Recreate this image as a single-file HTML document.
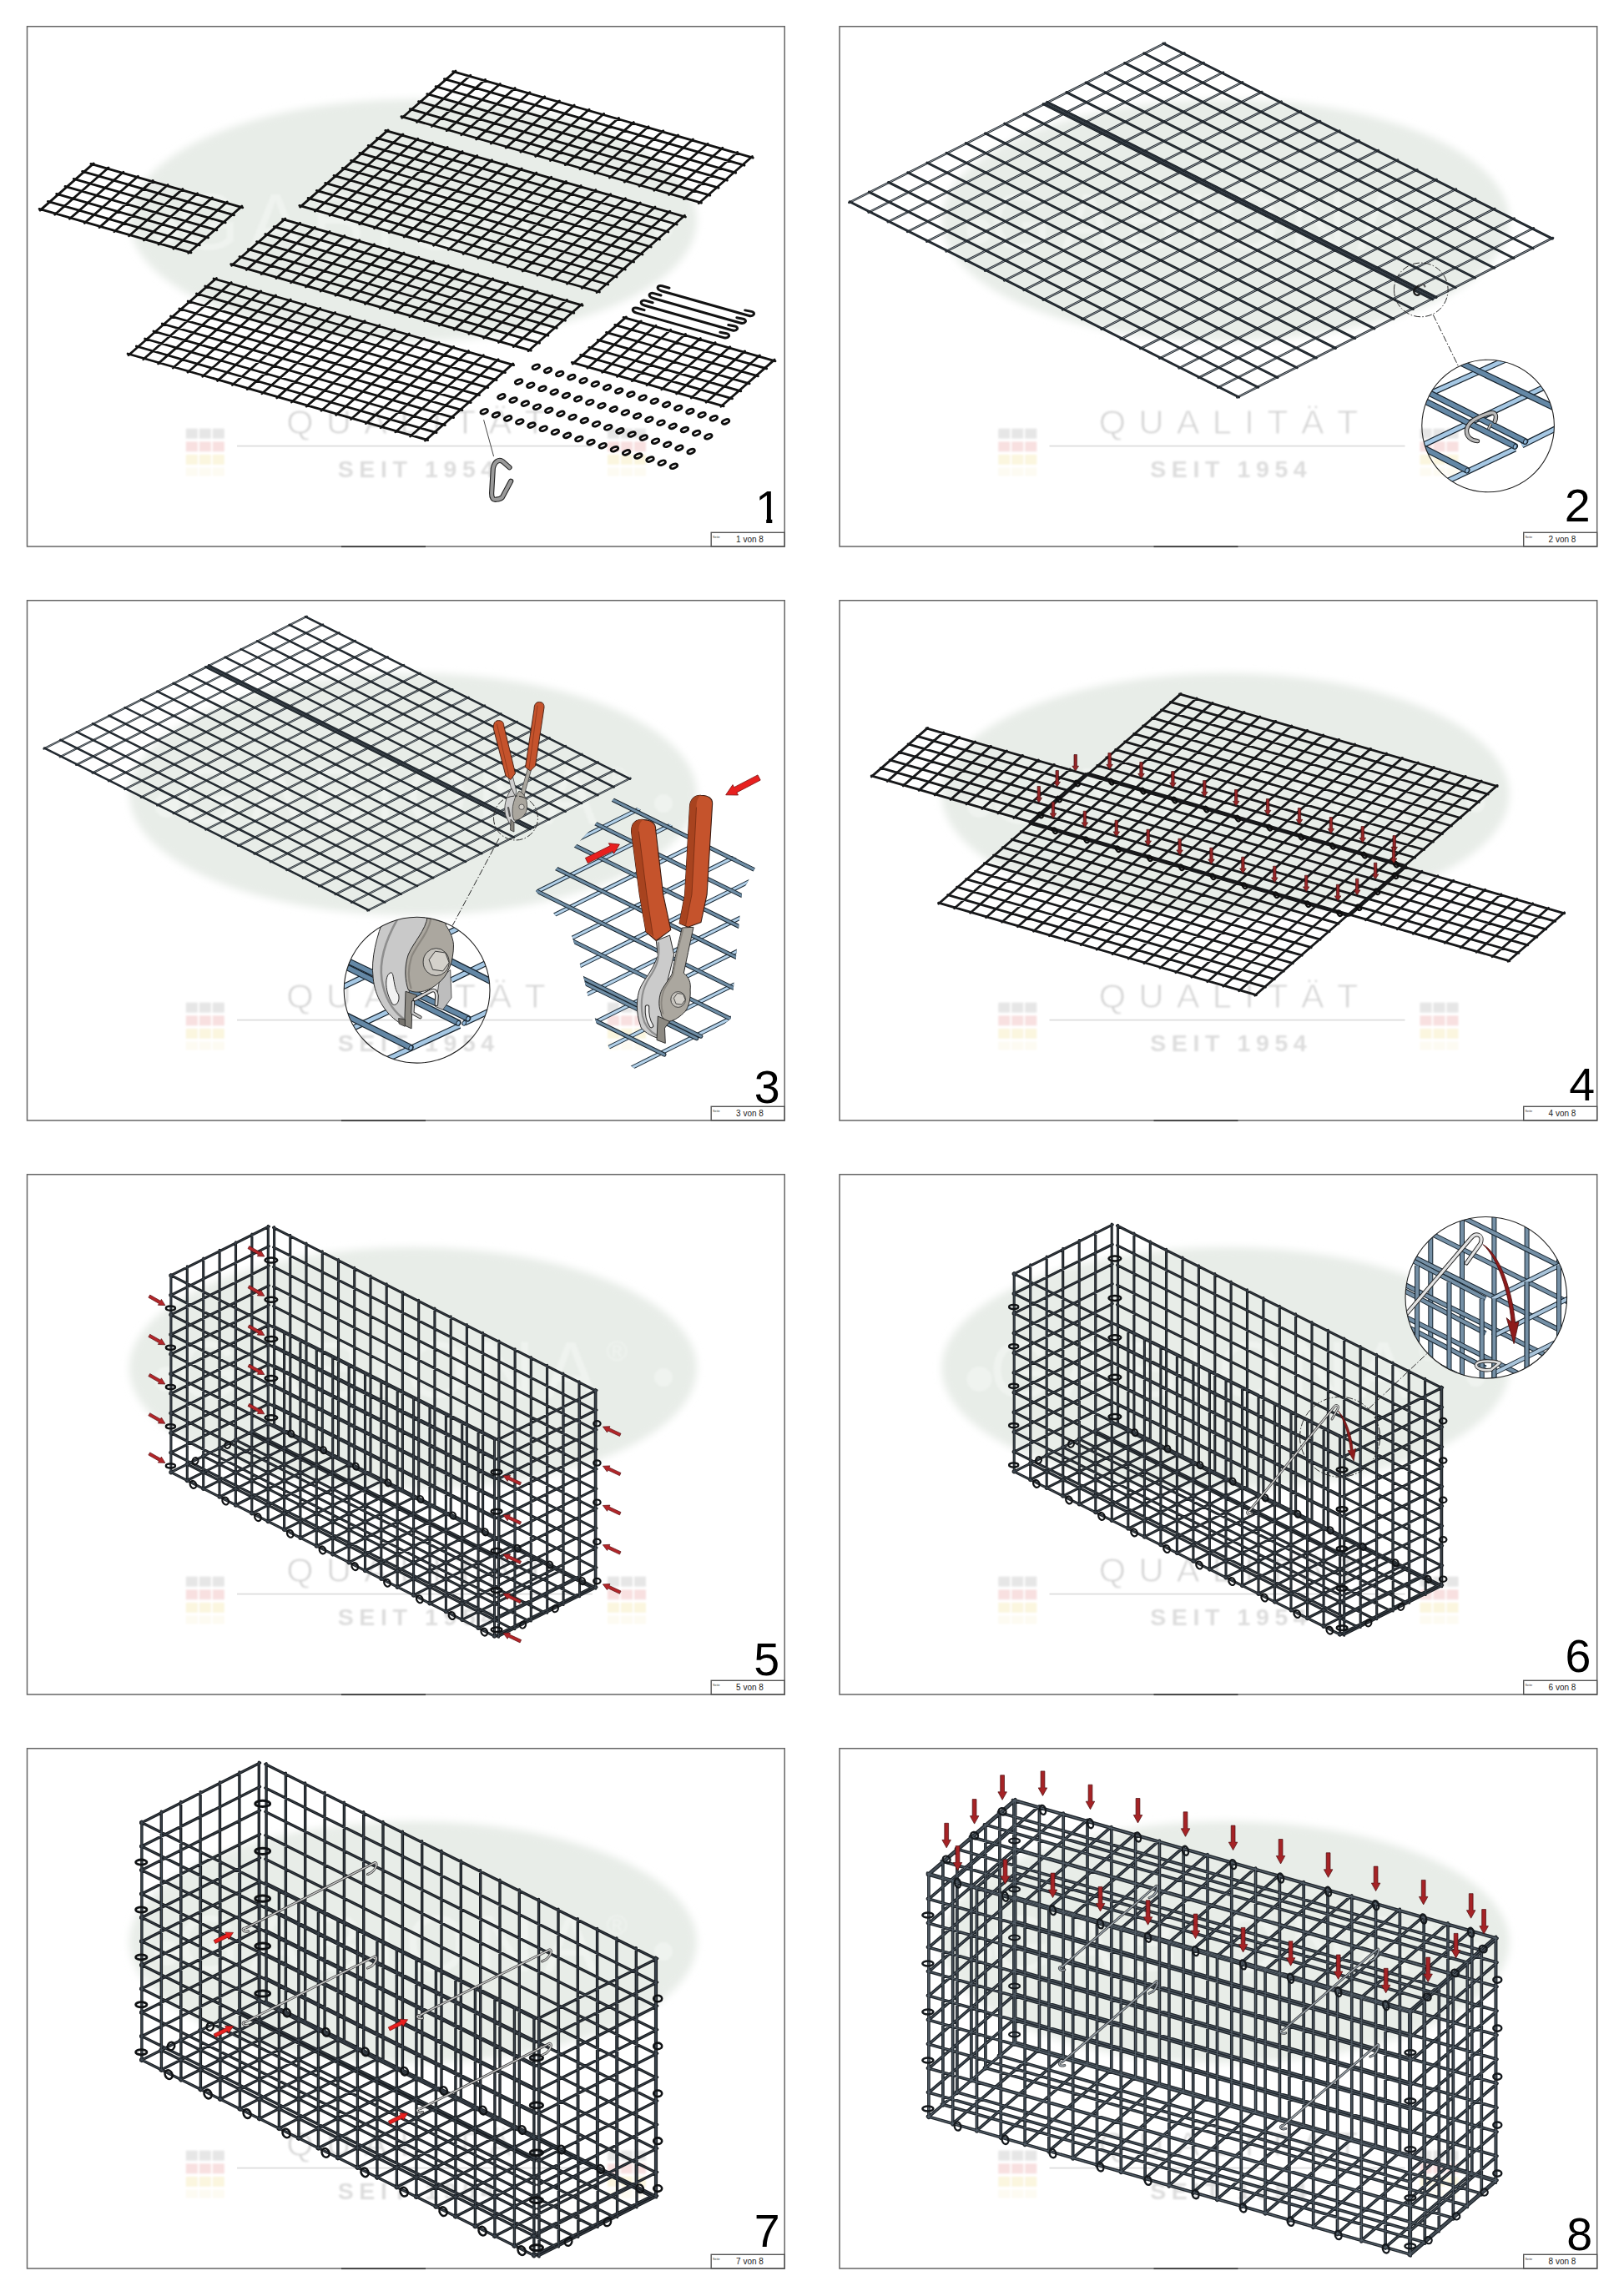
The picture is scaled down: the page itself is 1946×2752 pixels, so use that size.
<!DOCTYPE html>
<html lang="de"><head><meta charset="utf-8"><title>Gabione Montageanleitung</title>
<style>
html,body{margin:0;padding:0;background:#fff}
svg{display:block;font-family:"Liberation Sans",sans-serif}
</style></head><body>
<svg width="1946" height="2752" viewBox="0 0 1946 2752">
<rect width="1946" height="2752" fill="#fff"/>
<defs>
<filter id="bl" x="-10%" y="-10%" width="120%" height="120%"><feGaussianBlur stdDeviation="5"/></filter>
<filter id="bl2" x="-10%" y="-10%" width="120%" height="120%"><feGaussianBlur stdDeviation="1.2"/></filter>
<g id="flag">
<g fill="#e6e6e6"><rect x="0" y="0" width="14" height="12"/><rect x="16" y="0" width="14" height="12"/><rect x="32" y="0" width="14" height="12"/></g>
<g fill="#f8e0e0"><rect x="0" y="15.6" width="14" height="12"/><rect x="16" y="15.6" width="14" height="12"/><rect x="32" y="15.6" width="14" height="12"/></g>
<g fill="#fbf6df"><rect x="0" y="31.2" width="14" height="12"/><rect x="16" y="31.2" width="14" height="12"/><rect x="32" y="31.2" width="14" height="12"/></g>
<g fill="#fdfbf2"><rect x="0" y="46.8" width="14" height="10"/><rect x="16" y="46.8" width="14" height="10"/><rect x="32" y="46.8" width="14" height="10"/></g>
</g>
<g id="wm">
<ellipse cx="495" cy="264" rx="340" ry="145" fill="#e8ede8" filter="url(#bl)"/>
<g filter="url(#bl2)"><circle cx="200" cy="277" r="15" fill="#eff3ef"/><circle cx="795" cy="275" r="11" fill="#eff3ef"/></g>
<use href="#flag" x="222.8" y="513.7" filter="url(#bl2)"/>
<use href="#flag" x="728" y="513.7" filter="url(#bl2)"/>
<rect x="284" y="533.7" width="426" height="1.8" fill="#dedede"/>
</g>
<g id="frame">
<rect x="32.5" y="31.7" width="907.7" height="623.3" fill="none" stroke="#666" stroke-width="1.5"/>
<rect x="852.2" y="638.3" width="88" height="16.7" fill="none" stroke="#555" stroke-width="1.4"/>
<rect x="409" y="654.2" width="101" height="1.9" fill="#444"/>
</g>
</defs>
<g transform="translate(0,0)">
<use href="#wm"/>
<g filter="url(#bl2)"><text x="482" y="299" font-size="96" text-anchor="middle" fill="#eff3ef" letter-spacing="11">GABIONA<tspan font-size="34" dy="-44" letter-spacing="0">®</tspan></text><text x="506.3" y="520.3" font-size="41.5" text-anchor="middle" fill="#d4d4d4" stroke="#fff" stroke-width="0.9" letter-spacing="15.4">QUALITÄT</text><text x="501.8" y="571.9" font-size="28.5" font-weight="bold" text-anchor="middle" fill="#dddddd" letter-spacing="6.6">SEIT 1954</text></g>
<use href="#frame"/><text x="854" y="645.4" font-size="3.8" fill="#333">Seite</text>
<clipPath id="c1"><path d="M890 570H940V621.2H925.3V632H918.2V621.2H890Z"/></clipPath>
<text x="920.5" y="626.6" font-size="55.5" text-anchor="middle" fill="#000" clip-path="url(#c1)">1</text>
<text x="898.5" y="650.2" font-size="10" text-anchor="middle" fill="#222">1 von 8</text>
</g>
<g transform="translate(973.5,0)">
<use href="#wm"/>
<g filter="url(#bl2)"><text x="482" y="299" font-size="96" text-anchor="middle" fill="#eff3ef" letter-spacing="11">GABIONA<tspan font-size="34" dy="-44" letter-spacing="0">®</tspan></text><text x="506.3" y="520.3" font-size="41.5" text-anchor="middle" fill="#d4d4d4" stroke="#fff" stroke-width="0.9" letter-spacing="15.4">QUALITÄT</text><text x="501.8" y="571.9" font-size="28.5" font-weight="bold" text-anchor="middle" fill="#dddddd" letter-spacing="6.6">SEIT 1954</text></g>
<use href="#frame"/><text x="854" y="645.4" font-size="3.8" fill="#333">Seite</text>
<text x="916.7" y="624.6" font-size="55.5" text-anchor="middle" fill="#000">2</text>
<text x="898.5" y="650.2" font-size="10" text-anchor="middle" fill="#222">2 von 8</text>
</g>
<g transform="translate(0,688)">
<use href="#wm"/>
<g filter="url(#bl2)"><text x="482" y="299" font-size="96" text-anchor="middle" fill="#eff3ef" letter-spacing="11">GABIONA<tspan font-size="34" dy="-44" letter-spacing="0">®</tspan></text><text x="506.3" y="520.3" font-size="41.5" text-anchor="middle" fill="#d4d4d4" stroke="#fff" stroke-width="0.9" letter-spacing="15.4">QUALITÄT</text><text x="501.8" y="571.9" font-size="28.5" font-weight="bold" text-anchor="middle" fill="#dddddd" letter-spacing="6.6">SEIT 1954</text></g>
<use href="#frame"/><text x="854" y="645.4" font-size="3.8" fill="#333">Seite</text>
<text x="919.1" y="633.6" font-size="55.5" text-anchor="middle" fill="#000">3</text>
<text x="898.5" y="650.2" font-size="10" text-anchor="middle" fill="#222">3 von 8</text>
</g>
<g transform="translate(973.5,688)">
<use href="#wm"/>
<g filter="url(#bl2)"><text x="482" y="299" font-size="96" text-anchor="middle" fill="#eff3ef" letter-spacing="11">GABIONA<tspan font-size="34" dy="-44" letter-spacing="0">®</tspan></text><text x="506.3" y="520.3" font-size="41.5" text-anchor="middle" fill="#d4d4d4" stroke="#fff" stroke-width="0.9" letter-spacing="15.4">QUALITÄT</text><text x="501.8" y="571.9" font-size="28.5" font-weight="bold" text-anchor="middle" fill="#dddddd" letter-spacing="6.6">SEIT 1954</text></g>
<use href="#frame"/><text x="854" y="645.4" font-size="3.8" fill="#333">Seite</text>
<text x="922.1" y="630.8" font-size="55.5" text-anchor="middle" fill="#000">4</text>
<text x="898.5" y="650.2" font-size="10" text-anchor="middle" fill="#222">4 von 8</text>
</g>
<g transform="translate(0,1376)">
<use href="#wm"/>
<g filter="url(#bl2)"><text x="482" y="299" font-size="96" text-anchor="middle" fill="#eff3ef" letter-spacing="11">GABIONA<tspan font-size="34" dy="-44" letter-spacing="0">®</tspan></text><text x="506.3" y="520.3" font-size="41.5" text-anchor="middle" fill="#d4d4d4" stroke="#fff" stroke-width="0.9" letter-spacing="15.4">QUALITÄT</text><text x="501.8" y="571.9" font-size="28.5" font-weight="bold" text-anchor="middle" fill="#dddddd" letter-spacing="6.6">SEIT 1954</text></g>
<use href="#frame"/><text x="854" y="645.4" font-size="3.8" fill="#333">Seite</text>
<text x="918.6" y="632.2" font-size="55.5" text-anchor="middle" fill="#000">5</text>
<text x="898.5" y="650.2" font-size="10" text-anchor="middle" fill="#222">5 von 8</text>
</g>
<g transform="translate(973.5,1376)">
<use href="#wm"/>
<g filter="url(#bl2)"><text x="482" y="299" font-size="96" text-anchor="middle" fill="#eff3ef" letter-spacing="11">GABIONA<tspan font-size="34" dy="-44" letter-spacing="0">®</tspan></text><text x="506.3" y="520.3" font-size="41.5" text-anchor="middle" fill="#d4d4d4" stroke="#fff" stroke-width="0.9" letter-spacing="15.4">QUALITÄT</text><text x="501.8" y="571.9" font-size="28.5" font-weight="bold" text-anchor="middle" fill="#dddddd" letter-spacing="6.6">SEIT 1954</text></g>
<use href="#frame"/><text x="854" y="645.4" font-size="3.8" fill="#333">Seite</text>
<text x="917.5" y="628.2" font-size="55.5" text-anchor="middle" fill="#000">6</text>
<text x="898.5" y="650.2" font-size="10" text-anchor="middle" fill="#222">6 von 8</text>
</g>
<g transform="translate(0,2064)">
<use href="#wm"/>
<g filter="url(#bl2)"><text x="482" y="299" font-size="96" text-anchor="middle" fill="#eff3ef" letter-spacing="11">GABIONA<tspan font-size="34" dy="-44" letter-spacing="0">®</tspan></text><text x="506.3" y="520.3" font-size="41.5" text-anchor="middle" fill="#d4d4d4" stroke="#fff" stroke-width="0.9" letter-spacing="15.4">QUALITÄT</text><text x="501.8" y="571.9" font-size="28.5" font-weight="bold" text-anchor="middle" fill="#dddddd" letter-spacing="6.6">SEIT 1954</text></g>
<use href="#frame"/><text x="854" y="645.4" font-size="3.8" fill="#333">Seite</text>
<text x="919.1" y="629.1" font-size="55.5" text-anchor="middle" fill="#000">7</text>
<text x="898.5" y="650.2" font-size="10" text-anchor="middle" fill="#222">7 von 8</text>
</g>
<g transform="translate(973.5,2064)">
<use href="#wm"/>
<g filter="url(#bl2)"><text x="482" y="299" font-size="96" text-anchor="middle" fill="#eff3ef" letter-spacing="11">GABIONA<tspan font-size="34" dy="-44" letter-spacing="0">®</tspan></text><text x="506.3" y="520.3" font-size="41.5" text-anchor="middle" fill="#d4d4d4" stroke="#fff" stroke-width="0.9" letter-spacing="15.4">QUALITÄT</text><text x="501.8" y="571.9" font-size="28.5" font-weight="bold" text-anchor="middle" fill="#dddddd" letter-spacing="6.6">SEIT 1954</text></g>
<use href="#frame"/><text x="854" y="645.4" font-size="3.8" fill="#333">Seite</text>
<text x="919.2" y="633.3" font-size="55.5" text-anchor="middle" fill="#000">8</text>
<text x="898.5" y="650.2" font-size="10" text-anchor="middle" fill="#222">8 von 8</text>
</g>
<g transform="translate(0,0)">
<path d="M112.2 195.9L48 252.1M130 201L65.7 257.2M147.8 206.2L83.5 262.3M165.5 211.3L101.3 267.4M183.3 216.4L119 272.6M201.1 221.5L136.8 277.7M218.9 226.6L154.6 282.8M236.6 231.8L172.4 287.9M254.4 236.9L190.1 293M272.2 242L207.9 298.2M289.9 247.1L225.7 303.3M108.9 196.4L290.8 248.8M98.6 205.4L280.5 257.8M88.3 214.4L270.2 266.8M78 223.4L259.9 275.8M67.7 232.4L249.6 284.8M57.4 241.4L239.3 293.8M47.1 250.4L229 302.8M546 85.1L481.8 141.3M563.8 90.2L499.5 146.4M581.6 95.4L517.3 151.5M599.3 100.5L535.1 156.6M617.1 105.6L552.8 161.8M634.9 110.7L570.6 166.9M652.7 115.8L588.4 172M670.4 121L606.2 177.1M688.2 126.1L623.9 182.2M706 131.2L641.7 187.4M723.7 136.3L659.5 192.5M741.5 141.4L677.2 197.6M759.3 146.6L695 202.7M777 151.7L712.8 207.8M794.8 156.8L730.5 213M812.6 161.9L748.3 218.1M830.4 167L766.1 223.2M848.1 172.2L783.9 228.3M865.9 177.3L801.6 233.4M883.7 182.4L819.4 238.6M901.4 187.5L837.2 243.7M542.7 85.6L902.3 189.2M532.4 94.6L892 198.2M522.1 103.6L881.7 207.2M511.8 112.6L871.4 216.2M501.5 121.6L861.1 225.2M491.2 130.6L850.8 234.2M480.9 139.6L840.5 243.2M465.1 155.9L359.7 248.1M482.9 161L377.4 253.2M500.7 166.2L395.2 258.3M518.4 171.3L413 263.4M536.2 176.4L430.7 268.6M554 181.5L448.5 273.7M571.8 186.6L466.3 278.8M589.5 191.8L484.1 283.9M607.3 196.9L501.8 289M625.1 202L519.6 294.2M642.8 207.1L537.4 299.3M660.6 212.2L555.1 304.4M678.4 217.4L572.9 309.5M696.1 222.5L590.7 314.6M713.9 227.6L608.4 319.8M731.7 232.7L626.2 324.9M749.5 237.8L644 330M767.2 243L661.8 335.1M785 248.1L679.5 340.2M802.8 253.2L697.3 345.4M820.5 258.3L715.1 350.5M461.8 156.4L821.4 260M451.5 165.4L811.1 269M441.2 174.4L800.8 278M430.9 183.4L790.5 287M420.6 192.4L780.2 296M410.3 201.4L769.9 305M400 210.4L759.6 314M389.7 219.4L749.3 323M379.4 228.4L739 332M369.1 237.4L728.7 341M358.8 246.4L718.4 350M341.8 262.1L277.6 318.3M359.6 267.2L295.3 323.4M377.4 272.4L313.1 328.5M395.1 277.5L330.9 333.6M412.9 282.6L348.6 338.8M430.7 287.7L366.4 343.9M448.5 292.8L384.2 349M466.2 298L402 354.1M484 303.1L419.7 359.2M501.8 308.2L437.5 364.4M519.5 313.3L455.3 369.5M537.3 318.4L473 374.6M555.1 323.6L490.8 379.7M572.8 328.7L508.6 384.8M590.6 333.8L526.3 390M608.4 338.9L544.1 395.1M626.2 344L561.9 400.2M643.9 349.2L579.7 405.3M661.7 354.3L597.4 410.4M679.5 359.4L615.2 415.6M697.2 364.5L633 420.7M338.5 262.6L698.1 366.2M328.2 271.6L687.8 375.2M317.9 280.6L677.5 384.2M307.6 289.6L667.2 393.2M297.3 298.6L656.9 402.2M287 307.6L646.6 411.2M276.7 316.6L636.3 420.2M259.4 333.5L154 425.7M277.2 338.6L171.7 430.8M295 343.8L189.5 435.9M312.7 348.9L207.3 441M330.5 354L225 446.2M348.3 359.1L242.8 451.3M366.1 364.2L260.6 456.4M383.8 369.4L278.4 461.5M401.6 374.5L296.1 466.6M419.4 379.6L313.9 471.8M437.1 384.7L331.7 476.9M454.9 389.8L349.4 482M472.7 395L367.2 487.1M490.4 400.1L385 492.2M508.2 405.2L402.7 497.4M526 410.3L420.5 502.5M543.8 415.4L438.3 507.6M561.5 420.6L456.1 512.7M579.3 425.7L473.8 517.8M597.1 430.8L491.6 523M614.8 435.9L509.4 528.1M256.1 334L615.7 437.6M245.8 343L605.4 446.6M235.5 352L595.1 455.6M225.2 361L584.8 464.6M214.9 370L574.5 473.6M204.6 379L564.2 482.6M194.3 388L553.9 491.6M184 397L543.6 500.6M173.7 406L533.3 509.6M163.4 415L523 518.6M153.1 424L512.7 527.6M750.4 379.9L686.2 436.1M768.2 385L703.9 441.2M786 390.2L721.7 446.3M803.7 395.3L739.5 451.4M821.5 400.4L757.2 456.6M839.3 405.5L775 461.7M857.1 410.6L792.8 466.8M874.8 415.8L810.6 471.9M892.6 420.9L828.3 477M910.4 426L846.1 482.2M928.1 431.1L863.9 487.3M747.1 380.4L929 432.8M736.8 389.4L918.7 441.8M726.5 398.4L908.4 450.8M716.2 407.4L898.1 459.8M705.9 416.4L887.8 468.8M695.6 425.4L877.5 477.8M685.3 434.4L867.2 486.8" fill="none" stroke="#121212" stroke-width="2.8" stroke-linecap="round" stroke-linejoin="round" />
<path d="M802 345.2L793.5 342.8C787.5 341.2 785.6 346.6 792.7 348.7L896.8 378.2C903.3 380 906 374.6 900.5 373.4L892.7 371.9M792 354L783.5 351.6C777.5 350 775.6 355.4 782.8 357.5L886.8 387C893.3 388.8 896 383.4 890.5 382.2L882.8 380.7M782.1 362.8L773.6 360.4C767.6 358.8 765.7 364.2 772.8 366.3L876.9 395.8C883.4 397.6 886.1 392.2 880.6 391L872.8 389.5M772.1 371.6L763.6 369.2C757.6 367.6 755.8 373 762.9 375.1L866.9 404.6C873.4 406.4 876.1 401 870.6 399.8L862.9 398.3" fill="none" stroke="#121212" stroke-width="3" stroke-linecap="round" stroke-linejoin="round" />
<ellipse cx="642.3" cy="439.8" rx="4.5" ry="2.4" transform="rotate(-22 642.3 439.8)" fill="none" stroke="#0c0c0c" stroke-width="2.7"/>
<ellipse cx="656.5" cy="443.9" rx="4.5" ry="2.4" transform="rotate(-22 656.5 443.9)" fill="none" stroke="#0c0c0c" stroke-width="2.7"/>
<ellipse cx="670.7" cy="448" rx="4.5" ry="2.4" transform="rotate(-22 670.7 448)" fill="none" stroke="#0c0c0c" stroke-width="2.7"/>
<ellipse cx="684.9" cy="452.1" rx="4.5" ry="2.4" transform="rotate(-22 684.9 452.1)" fill="none" stroke="#0c0c0c" stroke-width="2.7"/>
<ellipse cx="699.1" cy="456.2" rx="4.5" ry="2.4" transform="rotate(-22 699.1 456.2)" fill="none" stroke="#0c0c0c" stroke-width="2.7"/>
<ellipse cx="713.3" cy="460.3" rx="4.5" ry="2.4" transform="rotate(-22 713.3 460.3)" fill="none" stroke="#0c0c0c" stroke-width="2.7"/>
<ellipse cx="727.5" cy="464.4" rx="4.5" ry="2.4" transform="rotate(-22 727.5 464.4)" fill="none" stroke="#0c0c0c" stroke-width="2.7"/>
<ellipse cx="741.7" cy="468.5" rx="4.5" ry="2.4" transform="rotate(-22 741.7 468.5)" fill="none" stroke="#0c0c0c" stroke-width="2.7"/>
<ellipse cx="755.9" cy="472.6" rx="4.5" ry="2.4" transform="rotate(-22 755.9 472.6)" fill="none" stroke="#0c0c0c" stroke-width="2.7"/>
<ellipse cx="770.1" cy="476.7" rx="4.5" ry="2.4" transform="rotate(-22 770.1 476.7)" fill="none" stroke="#0c0c0c" stroke-width="2.7"/>
<ellipse cx="784.3" cy="480.8" rx="4.5" ry="2.4" transform="rotate(-22 784.3 480.8)" fill="none" stroke="#0c0c0c" stroke-width="2.7"/>
<ellipse cx="798.5" cy="484.9" rx="4.5" ry="2.4" transform="rotate(-22 798.5 484.9)" fill="none" stroke="#0c0c0c" stroke-width="2.7"/>
<ellipse cx="812.7" cy="489" rx="4.5" ry="2.4" transform="rotate(-22 812.7 489)" fill="none" stroke="#0c0c0c" stroke-width="2.7"/>
<ellipse cx="826.9" cy="493.1" rx="4.5" ry="2.4" transform="rotate(-22 826.9 493.1)" fill="none" stroke="#0c0c0c" stroke-width="2.7"/>
<ellipse cx="841.1" cy="497.2" rx="4.5" ry="2.4" transform="rotate(-22 841.1 497.2)" fill="none" stroke="#0c0c0c" stroke-width="2.7"/>
<ellipse cx="855.3" cy="501.3" rx="4.5" ry="2.4" transform="rotate(-22 855.3 501.3)" fill="none" stroke="#0c0c0c" stroke-width="2.7"/>
<ellipse cx="869.5" cy="505.4" rx="4.5" ry="2.4" transform="rotate(-22 869.5 505.4)" fill="none" stroke="#0c0c0c" stroke-width="2.7"/>
<ellipse cx="621.6" cy="457.6" rx="4.5" ry="2.4" transform="rotate(-22 621.6 457.6)" fill="none" stroke="#0c0c0c" stroke-width="2.7"/>
<ellipse cx="635.8" cy="461.7" rx="4.5" ry="2.4" transform="rotate(-22 635.8 461.7)" fill="none" stroke="#0c0c0c" stroke-width="2.7"/>
<ellipse cx="650" cy="465.8" rx="4.5" ry="2.4" transform="rotate(-22 650 465.8)" fill="none" stroke="#0c0c0c" stroke-width="2.7"/>
<ellipse cx="664.2" cy="469.9" rx="4.5" ry="2.4" transform="rotate(-22 664.2 469.9)" fill="none" stroke="#0c0c0c" stroke-width="2.7"/>
<ellipse cx="678.4" cy="474" rx="4.5" ry="2.4" transform="rotate(-22 678.4 474)" fill="none" stroke="#0c0c0c" stroke-width="2.7"/>
<ellipse cx="692.6" cy="478.1" rx="4.5" ry="2.4" transform="rotate(-22 692.6 478.1)" fill="none" stroke="#0c0c0c" stroke-width="2.7"/>
<ellipse cx="706.8" cy="482.2" rx="4.5" ry="2.4" transform="rotate(-22 706.8 482.2)" fill="none" stroke="#0c0c0c" stroke-width="2.7"/>
<ellipse cx="721" cy="486.3" rx="4.5" ry="2.4" transform="rotate(-22 721 486.3)" fill="none" stroke="#0c0c0c" stroke-width="2.7"/>
<ellipse cx="735.2" cy="490.4" rx="4.5" ry="2.4" transform="rotate(-22 735.2 490.4)" fill="none" stroke="#0c0c0c" stroke-width="2.7"/>
<ellipse cx="749.4" cy="494.5" rx="4.5" ry="2.4" transform="rotate(-22 749.4 494.5)" fill="none" stroke="#0c0c0c" stroke-width="2.7"/>
<ellipse cx="763.6" cy="498.6" rx="4.5" ry="2.4" transform="rotate(-22 763.6 498.6)" fill="none" stroke="#0c0c0c" stroke-width="2.7"/>
<ellipse cx="777.8" cy="502.7" rx="4.5" ry="2.4" transform="rotate(-22 777.8 502.7)" fill="none" stroke="#0c0c0c" stroke-width="2.7"/>
<ellipse cx="792" cy="506.8" rx="4.5" ry="2.4" transform="rotate(-22 792 506.8)" fill="none" stroke="#0c0c0c" stroke-width="2.7"/>
<ellipse cx="806.2" cy="510.9" rx="4.5" ry="2.4" transform="rotate(-22 806.2 510.9)" fill="none" stroke="#0c0c0c" stroke-width="2.7"/>
<ellipse cx="820.4" cy="515" rx="4.5" ry="2.4" transform="rotate(-22 820.4 515)" fill="none" stroke="#0c0c0c" stroke-width="2.7"/>
<ellipse cx="834.6" cy="519.1" rx="4.5" ry="2.4" transform="rotate(-22 834.6 519.1)" fill="none" stroke="#0c0c0c" stroke-width="2.7"/>
<ellipse cx="848.8" cy="523.2" rx="4.5" ry="2.4" transform="rotate(-22 848.8 523.2)" fill="none" stroke="#0c0c0c" stroke-width="2.7"/>
<ellipse cx="600.9" cy="475.4" rx="4.5" ry="2.4" transform="rotate(-22 600.9 475.4)" fill="none" stroke="#0c0c0c" stroke-width="2.7"/>
<ellipse cx="615.1" cy="479.5" rx="4.5" ry="2.4" transform="rotate(-22 615.1 479.5)" fill="none" stroke="#0c0c0c" stroke-width="2.7"/>
<ellipse cx="629.3" cy="483.6" rx="4.5" ry="2.4" transform="rotate(-22 629.3 483.6)" fill="none" stroke="#0c0c0c" stroke-width="2.7"/>
<ellipse cx="643.5" cy="487.7" rx="4.5" ry="2.4" transform="rotate(-22 643.5 487.7)" fill="none" stroke="#0c0c0c" stroke-width="2.7"/>
<ellipse cx="657.7" cy="491.8" rx="4.5" ry="2.4" transform="rotate(-22 657.7 491.8)" fill="none" stroke="#0c0c0c" stroke-width="2.7"/>
<ellipse cx="671.9" cy="495.9" rx="4.5" ry="2.4" transform="rotate(-22 671.9 495.9)" fill="none" stroke="#0c0c0c" stroke-width="2.7"/>
<ellipse cx="686.1" cy="500" rx="4.5" ry="2.4" transform="rotate(-22 686.1 500)" fill="none" stroke="#0c0c0c" stroke-width="2.7"/>
<ellipse cx="700.3" cy="504.1" rx="4.5" ry="2.4" transform="rotate(-22 700.3 504.1)" fill="none" stroke="#0c0c0c" stroke-width="2.7"/>
<ellipse cx="714.5" cy="508.2" rx="4.5" ry="2.4" transform="rotate(-22 714.5 508.2)" fill="none" stroke="#0c0c0c" stroke-width="2.7"/>
<ellipse cx="728.7" cy="512.3" rx="4.5" ry="2.4" transform="rotate(-22 728.7 512.3)" fill="none" stroke="#0c0c0c" stroke-width="2.7"/>
<ellipse cx="742.9" cy="516.4" rx="4.5" ry="2.4" transform="rotate(-22 742.9 516.4)" fill="none" stroke="#0c0c0c" stroke-width="2.7"/>
<ellipse cx="757.1" cy="520.5" rx="4.5" ry="2.4" transform="rotate(-22 757.1 520.5)" fill="none" stroke="#0c0c0c" stroke-width="2.7"/>
<ellipse cx="771.3" cy="524.6" rx="4.5" ry="2.4" transform="rotate(-22 771.3 524.6)" fill="none" stroke="#0c0c0c" stroke-width="2.7"/>
<ellipse cx="785.5" cy="528.7" rx="4.5" ry="2.4" transform="rotate(-22 785.5 528.7)" fill="none" stroke="#0c0c0c" stroke-width="2.7"/>
<ellipse cx="799.7" cy="532.8" rx="4.5" ry="2.4" transform="rotate(-22 799.7 532.8)" fill="none" stroke="#0c0c0c" stroke-width="2.7"/>
<ellipse cx="813.9" cy="536.9" rx="4.5" ry="2.4" transform="rotate(-22 813.9 536.9)" fill="none" stroke="#0c0c0c" stroke-width="2.7"/>
<ellipse cx="828.1" cy="541" rx="4.5" ry="2.4" transform="rotate(-22 828.1 541)" fill="none" stroke="#0c0c0c" stroke-width="2.7"/>
<ellipse cx="580.2" cy="493.2" rx="4.5" ry="2.4" transform="rotate(-22 580.2 493.2)" fill="none" stroke="#0c0c0c" stroke-width="2.7"/>
<ellipse cx="594.4" cy="497.3" rx="4.5" ry="2.4" transform="rotate(-22 594.4 497.3)" fill="none" stroke="#0c0c0c" stroke-width="2.7"/>
<ellipse cx="608.6" cy="501.4" rx="4.5" ry="2.4" transform="rotate(-22 608.6 501.4)" fill="none" stroke="#0c0c0c" stroke-width="2.7"/>
<ellipse cx="622.8" cy="505.5" rx="4.5" ry="2.4" transform="rotate(-22 622.8 505.5)" fill="none" stroke="#0c0c0c" stroke-width="2.7"/>
<ellipse cx="637" cy="509.6" rx="4.5" ry="2.4" transform="rotate(-22 637 509.6)" fill="none" stroke="#0c0c0c" stroke-width="2.7"/>
<ellipse cx="651.2" cy="513.7" rx="4.5" ry="2.4" transform="rotate(-22 651.2 513.7)" fill="none" stroke="#0c0c0c" stroke-width="2.7"/>
<ellipse cx="665.4" cy="517.8" rx="4.5" ry="2.4" transform="rotate(-22 665.4 517.8)" fill="none" stroke="#0c0c0c" stroke-width="2.7"/>
<ellipse cx="679.6" cy="521.9" rx="4.5" ry="2.4" transform="rotate(-22 679.6 521.9)" fill="none" stroke="#0c0c0c" stroke-width="2.7"/>
<ellipse cx="693.8" cy="526" rx="4.5" ry="2.4" transform="rotate(-22 693.8 526)" fill="none" stroke="#0c0c0c" stroke-width="2.7"/>
<ellipse cx="708" cy="530.1" rx="4.5" ry="2.4" transform="rotate(-22 708 530.1)" fill="none" stroke="#0c0c0c" stroke-width="2.7"/>
<ellipse cx="722.2" cy="534.2" rx="4.5" ry="2.4" transform="rotate(-22 722.2 534.2)" fill="none" stroke="#0c0c0c" stroke-width="2.7"/>
<ellipse cx="736.4" cy="538.3" rx="4.5" ry="2.4" transform="rotate(-22 736.4 538.3)" fill="none" stroke="#0c0c0c" stroke-width="2.7"/>
<ellipse cx="750.6" cy="542.4" rx="4.5" ry="2.4" transform="rotate(-22 750.6 542.4)" fill="none" stroke="#0c0c0c" stroke-width="2.7"/>
<ellipse cx="764.8" cy="546.5" rx="4.5" ry="2.4" transform="rotate(-22 764.8 546.5)" fill="none" stroke="#0c0c0c" stroke-width="2.7"/>
<ellipse cx="779" cy="550.6" rx="4.5" ry="2.4" transform="rotate(-22 779 550.6)" fill="none" stroke="#0c0c0c" stroke-width="2.7"/>
<ellipse cx="793.2" cy="554.7" rx="4.5" ry="2.4" transform="rotate(-22 793.2 554.7)" fill="none" stroke="#0c0c0c" stroke-width="2.7"/>
<ellipse cx="807.4" cy="558.8" rx="4.5" ry="2.4" transform="rotate(-22 807.4 558.8)" fill="none" stroke="#0c0c0c" stroke-width="2.7"/>
<path d="M579.7 503.6L591.5 546.7" fill="none" stroke="#333" stroke-width="0.9" stroke-linecap="round" stroke-linejoin="round" />
<path d="M610.5 560.3L602.5 553.2C598 550 592.5 553 590.8 561.5L589.1 591.1C589 597 591 599.5 594.5 598.7C598 598.5 600 598 601.9 596L612.2 576.8" fill="none" stroke="#222" stroke-width="6.2" stroke-linecap="round" stroke-linejoin="round" stroke-linecap="butt"/>
<path d="M610.5 560.3L602.5 553.2C598 550 592.5 553 590.8 561.5L589.1 591.1C589 597 591 599.5 594.5 598.7C598 598.5 600 598 601.9 596L612.2 576.8" fill="none" stroke="#9a9a9a" stroke-width="4" stroke-linecap="round" stroke-linejoin="round" stroke-linecap="butt"/>
</g>
<g transform="translate(973.5,0)">
<path d="M43.9 242.9L278.7 124.3M67.2 254.6L301.9 136M90.4 266.2L325.2 147.6M113.7 277.9L348.4 159.3M136.9 289.6L371.7 171M160.2 301.3L394.9 182.6M183.4 312.9L418.2 194.3M206.7 324.6L441.4 206M229.9 336.3L464.7 217.7M253.2 347.9L487.9 229.3M276.4 359.6L511.2 241M299.7 371.3L534.4 252.7M322.9 382.9L557.7 264.3M346.2 394.6L580.9 276M369.4 406.3L604.2 287.7M392.7 418L627.4 299.3M415.9 429.6L650.7 311M439.2 441.3L673.9 322.7M462.4 453L697.2 334.4M485.7 464.6L720.4 346M508.9 476.3L743.7 357.7M280.5 123.4L422.5 51.6M303.8 135L445.8 63.3M327 146.7L469 75M350.3 158.4L492.3 86.6M373.5 170L515.5 98.3M396.8 181.7L538.8 110M420 193.4L562 121.7M443.3 205L585.3 133.3M466.5 216.7L608.5 145M489.8 228.4L631.8 156.7M513 240.1L655 168.3M536.3 251.7L678.3 180M559.5 263.4L701.5 191.7M582.8 275.1L724.8 203.3M606 286.7L748 215M629.3 298.4L771.3 226.7M652.5 310.1L794.5 238.4M675.8 321.7L817.8 250M699 333.4L841 261.7M722.3 345.1L864.3 273.4M745.5 356.8L887.5 285" fill="none" stroke="#1d242a" stroke-width="2.6" stroke-linecap="round" stroke-linejoin="round" />
<path d="M43.9 242.9L278.7 124.3M67.2 254.6L301.9 136M90.4 266.2L325.2 147.6M113.7 277.9L348.4 159.3M136.9 289.6L371.7 171M160.2 301.3L394.9 182.6M183.4 312.9L418.2 194.3M206.7 324.6L441.4 206M229.9 336.3L464.7 217.7M253.2 347.9L487.9 229.3M276.4 359.6L511.2 241M299.7 371.3L534.4 252.7M322.9 382.9L557.7 264.3M346.2 394.6L580.9 276M369.4 406.3L604.2 287.7M392.7 418L627.4 299.3M415.9 429.6L650.7 311M439.2 441.3L673.9 322.7M462.4 453L697.2 334.4M485.7 464.6L720.4 346M508.9 476.3L743.7 357.7M280.5 123.4L422.5 51.6M303.8 135L445.8 63.3M327 146.7L469 75M350.3 158.4L492.3 86.6M373.5 170L515.5 98.3M396.8 181.7L538.8 110M420 193.4L562 121.7M443.3 205L585.3 133.3M466.5 216.7L608.5 145M489.8 228.4L631.8 156.7M513 240.1L655 168.3M536.3 251.7L678.3 180M559.5 263.4L701.5 191.7M582.8 275.1L724.8 203.3M606 286.7L748 215M629.3 298.4L771.3 226.7M652.5 310.1L794.5 238.4M675.8 321.7L817.8 250M699 333.4L841 261.7M722.3 345.1L864.3 273.4M745.5 356.8L887.5 285" fill="none" stroke="#cfd6dc" stroke-width="0.7" stroke-linecap="round" stroke-linejoin="round" />
<path d="M278.9 123.5L745.3 357.6" fill="none" stroke="#38424b" stroke-width="2" stroke-linecap="round" stroke-linejoin="round" />
<path d="M44.6 241.8L511 476M67.8 230.1L534.2 464.2M91 218.4L557.4 452.5M114.2 206.7L580.6 440.8M137.4 195L603.8 429.1M160.6 183.2L627 417.4M183.8 171.5L650.2 405.6M207 159.8L673.4 393.9M230.2 148.1L696.6 382.2M253.4 136.4L719.8 370.5M276.6 124.6L743 358.8M281.2 122.3L747.6 356.4M304.4 110.6L770.8 344.7M327.6 98.9L794 333M350.8 87.1L817.2 321.2M374 75.4L840.4 309.5M397.2 63.7L863.6 297.8M420.4 52L886.8 286.1" fill="none" stroke="#191f25" stroke-width="2.9" stroke-linecap="round" stroke-linejoin="round" />
<path d="M44.6 241.8L511 476M67.8 230.1L534.2 464.2M91 218.4L557.4 452.5M114.2 206.7L580.6 440.8M137.4 195L603.8 429.1M160.6 183.2L627 417.4M183.8 171.5L650.2 405.6M207 159.8L673.4 393.9M230.2 148.1L696.6 382.2M253.4 136.4L719.8 370.5M276.6 124.6L743 358.8M281.2 122.3L747.6 356.4M304.4 110.6L770.8 344.7M327.6 98.9L794 333M350.8 87.1L817.2 321.2M374 75.4L840.4 309.5M397.2 63.7L863.6 297.8M420.4 52L886.8 286.1" fill="none" stroke="#39434c" stroke-width="0.7" stroke-linecap="round" stroke-linejoin="round" />
<path d="M726.5 342.5C721 345 719.5 349.5 722 352.5C723.5 354 725.5 354 727 353" fill="none" stroke="#1a1a1a" stroke-width="2.4" stroke-linecap="round" stroke-linejoin="round" />
<path d="M726.5 342.5C730 340.5 733.5 340.5 734 343.5" fill="none" stroke="#555" stroke-width="2" stroke-linecap="round" stroke-linejoin="round" />
<path d="M697 347.4a32.3 32.3 0 1 0 64.6 0a32.3 32.3 0 1 0 -64.6 0" fill="none" stroke="#2a2a2a" stroke-width="1" stroke-dasharray="8 2.2 1.6 2.2"/>
<path d="M743.8 377.3L774 438.9" fill="none" stroke="#2a2a2a" stroke-width="1" stroke-dasharray="8 2.2 1.6 2.2"/>
<clipPath id="cp1"><circle cx="809.6" cy="510.5" r="79.3"/></clipPath>
<g clip-path="url(#cp1)">
<path d="M738.8 472.4L830.6 431" stroke="#16232e" stroke-width="7.2" stroke-linecap="butt" fill="none"/>
<path d="M738.8 472.4L830.6 431" stroke="#a6c8e4" stroke-width="4.8" stroke-linecap="butt" fill="none"/>
<path d="M729.7 534.4L879.8 462.7" stroke="#16232e" stroke-width="7.2" stroke-linecap="butt" fill="none"/>
<path d="M729.7 534.4L879.8 462.7" stroke="#a6c8e4" stroke-width="4.8" stroke-linecap="butt" fill="none"/>
<path d="M758.2 578L842 537.9" stroke="#16232e" stroke-width="7.2" stroke-linecap="butt" fill="none"/>
<path d="M758.2 578L842 537.9" stroke="#a6c8e4" stroke-width="4.8" stroke-linecap="butt" fill="none"/>
<path d="M850.3 533.8L894 512.1" stroke="#16232e" stroke-width="7.2" stroke-linecap="butt" fill="none"/>
<path d="M850.3 533.8L894 512.1" stroke="#a6c8e4" stroke-width="4.8" stroke-linecap="butt" fill="none"/>
<path d="M776.3 434.5L891.4 489.8" stroke="#16232e" stroke-width="7.8" stroke-linecap="butt" fill="none"/>
<path d="M776.3 434.5L891.4 489.8" stroke="#6488a6" stroke-width="5.4" stroke-linecap="butt" fill="none"/>
<path d="M732.3 467.6L853.9 528.9" stroke="#16232e" stroke-width="7.8" stroke-linecap="round" fill="none"/>
<path d="M732.3 467.6L853.9 528.9" stroke="#6488a6" stroke-width="5.4" stroke-linecap="round" fill="none"/>
<path d="M728.5 477.9L841.6 534.8" stroke="#16232e" stroke-width="7.8" stroke-linecap="round" fill="none"/>
<path d="M728.5 477.9L841.6 534.8" stroke="#6488a6" stroke-width="5.4" stroke-linecap="round" fill="none"/>
<path d="M729.7 535.7L784.1 563.5" stroke="#16232e" stroke-width="7.8" stroke-linecap="round" fill="none"/>
<path d="M729.7 535.7L784.1 563.5" stroke="#6488a6" stroke-width="5.4" stroke-linecap="round" fill="none"/>
<ellipse cx="854.5" cy="529.2" rx="2.2" ry="2.9" fill="#8fb6d8" stroke="#16232e" stroke-width="0.9" transform="rotate(25 853.9 528.9)"/>
<ellipse cx="842.2" cy="535.1" rx="2.2" ry="2.9" fill="#8fb6d8" stroke="#16232e" stroke-width="0.9" transform="rotate(25 841.6 534.8)"/>
<ellipse cx="784.7" cy="563.8" rx="2.2" ry="2.9" fill="#8fb6d8" stroke="#16232e" stroke-width="0.9" transform="rotate(25 784.1 563.5)"/>
<path d="M797 528.6C789.2 528 782.8 523.4 784.1 514.4C785.4 506.6 794.4 500.2 812.5 495C819 493.7 820.3 498.9 817.7 505.3" fill="none" stroke="#222" stroke-width="5.4" stroke-linecap="round" stroke-linejoin="round" />
<path d="M797 528.6C789.2 528 782.8 523.4 784.1 514.4C785.4 506.6 794.4 500.2 812.5 495C819 493.7 820.3 498.9 817.7 505.3" fill="none" stroke="#b9b9b9" stroke-width="3.4" stroke-linecap="round" stroke-linejoin="round" />
<path d="M809.9 514.4L813.2 507.9" stroke="#222" stroke-width="3.4" stroke-linecap="butt" fill="none"/>
<path d="M809.9 514.4L813.2 507.9" stroke="#b9b9b9" stroke-width="2" stroke-linecap="butt" fill="none"/>
</g>
<circle cx="809.6" cy="510.5" r="79.3" fill="none" stroke="#222" stroke-width="1.1"/>
</g>
<g transform="translate(0,688.8)">
<path d="M52.5 208.7L248 110.3M71.9 218.4L267.3 120M91.3 228.1L286.7 129.7M110.7 237.8L306.1 139.4M130.1 247.5L325.5 149.1M149.5 257.2L344.9 158.8M168.9 266.9L364.3 168.5M188.3 276.6L383.7 178.2M207.7 286.3L403.1 187.9M227.1 296L422.5 197.6M246.4 305.7L441.9 207.3M265.8 315.4L461.2 217M285.2 325.1L480.6 226.7M304.6 334.8L500 236.4M324 344.5L519.4 246.1M343.4 354.2L538.8 255.8M362.8 363.9L558.2 265.5M382.2 373.6L577.6 275.2M401.6 383.3L597 284.9M421 393L616.4 294.6M440.3 402.7L635.8 304.3M249.6 109.5L367.7 50M269 119.2L387.1 59.7M288.4 128.9L406.5 69.4M307.7 138.6L425.9 79.1M327.1 148.3L445.3 88.8M346.5 158L464.7 98.5M365.9 167.7L484.1 108.2M385.3 177.4L503.5 117.9M404.7 187.1L522.9 127.6M424.1 196.8L542.3 137.3M443.5 206.5L561.6 147M462.9 216.2L581 156.7M482.3 225.9L600.4 166.4M501.6 235.6L619.8 176.1M521 245.3L639.2 185.8M540.4 255L658.6 195.5M559.8 264.7L678 205.2M579.2 274.4L697.4 214.9M598.6 284.1L716.8 224.6M618 293.8L736.2 234.3M637.4 303.5L755.5 244" fill="none" stroke="#1d242a" stroke-width="2.3" stroke-linecap="round" stroke-linejoin="round" />
<path d="M52.5 208.7L248 110.3M71.9 218.4L267.3 120M91.3 228.1L286.7 129.7M110.7 237.8L306.1 139.4M130.1 247.5L325.5 149.1M149.5 257.2L344.9 158.8M168.9 266.9L364.3 168.5M188.3 276.6L383.7 178.2M207.7 286.3L403.1 187.9M227.1 296L422.5 197.6M246.4 305.7L441.9 207.3M265.8 315.4L461.2 217M285.2 325.1L480.6 226.7M304.6 334.8L500 236.4M324 344.5L519.4 246.1M343.4 354.2L538.8 255.8M362.8 363.9L558.2 265.5M382.2 373.6L577.6 275.2M401.6 383.3L597 284.9M421 393L616.4 294.6M440.3 402.7L635.8 304.3M249.6 109.5L367.7 50M269 119.2L387.1 59.7M288.4 128.9L406.5 69.4M307.7 138.6L425.9 79.1M327.1 148.3L445.3 88.8M346.5 158L464.7 98.5M365.9 167.7L484.1 108.2M385.3 177.4L503.5 117.9M404.7 187.1L522.9 127.6M424.1 196.8L542.3 137.3M443.5 206.5L561.6 147M462.9 216.2L581 156.7M482.3 225.9L600.4 166.4M501.6 235.6L619.8 176.1M521 245.3L639.2 185.8M540.4 255L658.6 195.5M559.8 264.7L678 205.2M579.2 274.4L697.4 214.9M598.6 284.1L716.8 224.6M618 293.8L736.2 234.3M637.4 303.5L755.5 244" fill="none" stroke="#cfd6dc" stroke-width="0.6" stroke-linecap="round" stroke-linejoin="round" />
<path d="M248.2 109.6L637.1 304.2" fill="none" stroke="#38424b" stroke-width="1.7" stroke-linecap="round" stroke-linejoin="round" />
<path d="M53.1 207.8L442.1 402.4M72.4 198.1L461.4 392.7M91.7 188.4L480.7 383M111 178.6L500 373.2M130.4 168.9L519.3 363.5M149.7 159.2L538.6 353.8M169 149.5L557.9 344.1M188.3 139.8L577.3 334.4M207.6 130L596.6 324.6M226.9 120.3L615.9 314.9M246.2 110.6L635.2 305.2M250.1 108.6L639.1 303.2M269.5 98.9L658.4 293.5M288.8 89.2L677.7 283.8M308.1 79.5L697 274.1M327.4 69.8L716.4 264.3M346.7 60L735.7 254.6M366 50.3L755 244.9" fill="none" stroke="#191f25" stroke-width="2.5" stroke-linecap="round" stroke-linejoin="round" />
<path d="M53.1 207.8L442.1 402.4M72.4 198.1L461.4 392.7M91.7 188.4L480.7 383M111 178.6L500 373.2M130.4 168.9L519.3 363.5M149.7 159.2L538.6 353.8M169 149.5L557.9 344.1M188.3 139.8L577.3 334.4M207.6 130L596.6 324.6M226.9 120.3L615.9 314.9M246.2 110.6L635.2 305.2M250.1 108.6L639.1 303.2M269.5 98.9L658.4 293.5M288.8 89.2L677.7 283.8M308.1 79.5L697 274.1M327.4 69.8L716.4 264.3M346.7 60L735.7 254.6M366 50.3L755 244.9" fill="none" stroke="#39434c" stroke-width="0.6" stroke-linecap="round" stroke-linejoin="round" />
</g>
<g>
<path d="M611.5 930L616 948L613 965" fill="none" stroke="#555" stroke-width="6.2" stroke-linecap="round" stroke-linejoin="round" />
<path d="M611.5 930L616 948L613 965" fill="none" stroke="#cfcfcf" stroke-width="4.4" stroke-linecap="round" stroke-linejoin="round" />
<path d="M635 920L628 945L624 962" fill="none" stroke="#555" stroke-width="5.4" stroke-linecap="round" stroke-linejoin="round" />
<path d="M635 920L628 945L624 962" fill="none" stroke="#aaa69e" stroke-width="3.6" stroke-linecap="round" stroke-linejoin="round" />
<path d="M613 945C606 955 603 968 606 978L612 990L618 984L620 960Z" fill="#cdcdcd" stroke="#333" stroke-width="0.8" stroke-linejoin="round" />
<path d="M622 948C630 952 633 962 631 972C628 980 620 984 616 983C612 975 614 958 622 948Z" fill="#aaa69e" stroke="#333" stroke-width="0.8" stroke-linejoin="round" />
<circle cx="625" cy="967.2" r="3.2" fill="#d5d2cc" stroke="#333" stroke-width="0.7"/>
<path d="M609 968L611 978" fill="none" stroke="#555" stroke-width="2.2" stroke-linecap="round" stroke-linejoin="round" />
<path d="M612 982L611.5 995L616 997L616 986Z" fill="#88857e" stroke="#222" stroke-width="0.7" stroke-linejoin="round" />
<path d="M591.2 873C591 866 594 863.5 597.5 863.6C602 863.8 603.6 866 603.8 870L617.5 927L612 934.5L606 930Z" fill="#c5532c" stroke="#3a1a10" stroke-width="0.9" stroke-linejoin="round" />
<path d="M595.5 868L610 931" fill="none" stroke="#7a2c12" stroke-width="0.6" stroke-linecap="round" stroke-linejoin="round" />
<path d="M640 850C640 843.5 643 841.2 646.5 841.4C650.5 841.6 652.2 844 652 848L641.5 918L635.5 924L629.5 919.5Z" fill="#c5532c" stroke="#3a1a10" stroke-width="0.9" stroke-linejoin="round" />
<path d="M644 846L634 921" fill="none" stroke="#7a2c12" stroke-width="0.6" stroke-linecap="round" stroke-linejoin="round" />
<path d="M591.5 980.5a26.5 26.5 0 1 0 53 0a26.5 26.5 0 1 0 -53 0" fill="none" stroke="#2a2a2a" stroke-width="1" stroke-dasharray="8 2.2 1.6 2.2"/>
<path d="M598 1005L542.2 1109.4" fill="none" stroke="#2a2a2a" stroke-width="1" stroke-dasharray="8 2.2 1.6 2.2"/>
<clipPath id="cp2"><circle cx="499.6" cy="1186.7" r="87.4"/></clipPath>
<g clip-path="url(#cp2)">
<path d="M407.8 1184.4L442.7 1167.6" stroke="#16232e" stroke-width="7.2" stroke-linecap="butt" fill="none"/>
<path d="M407.8 1184.4L442.7 1167.6" stroke="#a6c8e4" stroke-width="4.8" stroke-linecap="butt" fill="none"/>
<path d="M541 1174.7L591.4 1150.1" stroke="#16232e" stroke-width="7.2" stroke-linecap="butt" fill="none"/>
<path d="M541 1174.7L591.4 1150.1" stroke="#a6c8e4" stroke-width="4.8" stroke-linecap="butt" fill="none"/>
<path d="M538.4 1117.8L555.2 1109.4" stroke="#16232e" stroke-width="7.2" stroke-linecap="butt" fill="none"/>
<path d="M538.4 1117.8L555.2 1109.4" stroke="#a6c8e4" stroke-width="4.8" stroke-linecap="butt" fill="none"/>
<path d="M423.3 1232.2L467.2 1211.6" stroke="#16232e" stroke-width="7.2" stroke-linecap="butt" fill="none"/>
<path d="M423.3 1232.2L467.2 1211.6" stroke="#a6c8e4" stroke-width="4.8" stroke-linecap="butt" fill="none"/>
<path d="M462.1 1270.4L550.7 1229.4" stroke="#16232e" stroke-width="7.2" stroke-linecap="butt" fill="none"/>
<path d="M462.1 1270.4L550.7 1229.4" stroke="#a6c8e4" stroke-width="4.8" stroke-linecap="butt" fill="none"/>
<path d="M556.7 1226L591.4 1209.6" stroke="#16232e" stroke-width="7.2" stroke-linecap="butt" fill="none"/>
<path d="M556.7 1226L591.4 1209.6" stroke="#a6c8e4" stroke-width="4.8" stroke-linecap="butt" fill="none"/>
<path d="M539.7 1151.8L591.4 1177.9" stroke="#16232e" stroke-width="7.8" stroke-linecap="butt" fill="none"/>
<path d="M539.7 1151.8L591.4 1177.9" stroke="#6488a6" stroke-width="5.4" stroke-linecap="butt" fill="none"/>
<path d="M407.8 1147.5L560.4 1220.6" stroke="#16232e" stroke-width="7.8" stroke-linecap="round" fill="none"/>
<path d="M407.8 1147.5L560.4 1220.6" stroke="#6488a6" stroke-width="5.4" stroke-linecap="round" fill="none"/>
<path d="M407.8 1155.3L548.7 1225.8" stroke="#16232e" stroke-width="7.8" stroke-linecap="round" fill="none"/>
<path d="M407.8 1155.3L548.7 1225.8" stroke="#6488a6" stroke-width="5.4" stroke-linecap="round" fill="none"/>
<path d="M412.9 1216.1L491.8 1255.5" stroke="#16232e" stroke-width="7.8" stroke-linecap="round" fill="none"/>
<path d="M412.9 1216.1L491.8 1255.5" stroke="#6488a6" stroke-width="5.4" stroke-linecap="round" fill="none"/>
<ellipse cx="561" cy="1220.9" rx="2.2" ry="2.9" fill="#8fb6d8" stroke="#16232e" stroke-width="0.9" transform="rotate(25 560.4 1220.6)"/>
<ellipse cx="549.3" cy="1226.1" rx="2.2" ry="2.9" fill="#8fb6d8" stroke="#16232e" stroke-width="0.9" transform="rotate(25 548.7 1225.8)"/>
<ellipse cx="492.4" cy="1255.8" rx="2.2" ry="2.9" fill="#8fb6d8" stroke="#16232e" stroke-width="0.9" transform="rotate(25 491.8 1255.5)"/>
<ellipse cx="556.4" cy="1226.1" rx="2.2" ry="2.9" fill="#8fb6d8" stroke="#16232e" stroke-width="0.9" transform="rotate(25 555.8 1225.8)"/>
<path d="M526.7 1174.1L539.7 1162.4L541 1196L530.6 1210.3L521.6 1206.4Z" fill="#bdbdbd" stroke="#333" stroke-width="0.8" stroke-linejoin="round" />
<path d="M460.8 1097.8C451.7 1122.3 444 1148.2 447.2 1172.8C449.1 1193.5 460.8 1214.1 477.6 1225.1C482.8 1227.1 486.6 1227.1 489.2 1224.5L490.5 1180.5L511.2 1128.8L516.4 1097.8Z" fill="#c9c9c9" stroke="#2a2a2a" stroke-width="1" stroke-linejoin="round" />
<path d="M476.3 1101.6C460.8 1128.8 454.3 1152.1 457.5 1174.1C460.8 1196 469.8 1210.3 482.8 1220.6" fill="none" stroke="#8e8e8e" stroke-width="2.6" stroke-linecap="round" stroke-linejoin="round" />
<path d="M467.2 1166.3C460.8 1170.2 460.8 1188.3 470.5 1203.8C475 1206.4 479.5 1199.9 477.6 1192.2C472.4 1185.7 472.4 1174.1 470.5 1167.6C469.8 1165.6 468.5 1165.6 467.2 1166.3Z" fill="#f2f2f2" stroke="#2a2a2a" stroke-width="1" stroke-linejoin="round" />
<path d="M512.5 1097.8C509.9 1115.9 495.7 1128.8 489.2 1144.3C484.1 1159.8 485.3 1175.3 489.2 1186.3C498.3 1192.2 513.8 1188.3 524.1 1179.2C537.1 1170.2 543.5 1152.1 543.5 1132.7C542.9 1122.3 537.1 1113.3 534.5 1109.4C533.2 1104.2 533.2 1100.3 534.5 1096.5L512.5 1096.5Z" fill="#aba79f" stroke="#2a2a2a" stroke-width="1" stroke-linejoin="round" />
<path d="M516.4 1100.3C513.8 1118.4 499.6 1131.4 493.1 1146.9C488.6 1161.1 489.2 1174.1 492.5 1184.4" fill="none" stroke="#8b8780" stroke-width="2.2" stroke-linecap="round" stroke-linejoin="round" />
<ellipse cx="522.6" cy="1153.1" rx="15.5" ry="16.5" fill="#c6c3bd" stroke="#2a2a2a" stroke-width="0.9"/>
<path d="M538.2 1153.9L530.7 1163.9L518.6 1162.2L514.1 1150.3L521.6 1140.2L533.7 1142Z" fill="#d4d1cb" stroke="#2a2a2a" stroke-width="0.9" stroke-linejoin="round" />
<path d="M486 1188.3L484.7 1229L493.1 1232.9L493.8 1206.4L499.6 1192.8Z" fill="#8d8a83" stroke="#222" stroke-width="0.9" stroke-linejoin="round" />
<path d="M477.6 1220.6L478.2 1227.1L485.3 1230.3L485.3 1221.9Z" fill="#77746e" stroke="#222" stroke-width="0.8" stroke-linejoin="round" />
<path d="M497 1198L516.4 1187.6C520.9 1185.7 522.9 1188.3 523.5 1193.5L522.9 1203.8" fill="none" stroke="#222" stroke-width="4.6" stroke-linecap="round" stroke-linejoin="round" />
<path d="M497 1198L516.4 1187.6C520.9 1185.7 522.9 1188.3 523.5 1193.5L522.9 1203.8" fill="none" stroke="#d8d8d8" stroke-width="2.6" stroke-linecap="round" stroke-linejoin="round" />
<path d="M495 1201.2L494.4 1214.1L503.5 1219.3" fill="none" stroke="#222" stroke-width="4.2" stroke-linecap="round" stroke-linejoin="round" />
<path d="M495 1201.2L494.4 1214.1L503.5 1219.3" fill="none" stroke="#c8c8c8" stroke-width="2.4" stroke-linecap="round" stroke-linejoin="round" />
</g>
<circle cx="499.6" cy="1186.7" r="87.4" fill="none" stroke="#222" stroke-width="1.1"/>
<clipPath id="pm"><path d="M737 955L905 1040L889 1070L885.5 1108L882 1147L879 1183L875.5 1221L844 1248L768 1286L733 1261.5L715 1227L705 1196L700 1174L696 1160L686 1123.4L667 1099.3L642 1068L666 1042L688.5 1015L712.5 989Z"/></clipPath>
<g clip-path="url(#pm)">
<path d="M727.2 950.6L489.5 1069.3M484.4 1071.8L372.9 1127.5M765.7 969.6L528 1088.3M522.9 1090.8L411.4 1146.5M804.2 988.6L566.5 1107.3M561.4 1109.8L449.9 1165.5M842.7 1007.6L605 1126.3M599.9 1128.8L488.4 1184.5M881.2 1026.6L643.5 1145.3M638.4 1147.8L526.9 1203.5M919.7 1045.6L682 1164.3M676.9 1166.8L565.4 1222.5M958.2 1064.6L720.5 1183.3M715.4 1185.8L603.9 1241.5M996.7 1083.6L759 1202.3M753.9 1204.8L642.4 1260.5M1035.2 1102.6L797.5 1221.3M792.4 1223.8L680.9 1279.5M1073.7 1121.6L836 1240.3M830.9 1242.8L719.4 1298.5" fill="none" stroke="#1d2d3a" stroke-width="5" stroke-linecap="round" stroke-linejoin="round" stroke-linecap="butt"/>
<path d="M727.2 950.6L489.5 1069.3M484.4 1071.8L372.9 1127.5M765.7 969.6L528 1088.3M522.9 1090.8L411.4 1146.5M804.2 988.6L566.5 1107.3M561.4 1109.8L449.9 1165.5M842.7 1007.6L605 1126.3M599.9 1128.8L488.4 1184.5M881.2 1026.6L643.5 1145.3M638.4 1147.8L526.9 1203.5M919.7 1045.6L682 1164.3M676.9 1166.8L565.4 1222.5M958.2 1064.6L720.5 1183.3M715.4 1185.8L603.9 1241.5M996.7 1083.6L759 1202.3M753.9 1204.8L642.4 1260.5M1035.2 1102.6L797.5 1221.3M792.4 1223.8L680.9 1279.5M1073.7 1121.6L836 1240.3M830.9 1242.8L719.4 1298.5" fill="none" stroke="#b4d2ea" stroke-width="3" stroke-linecap="round" stroke-linejoin="round" stroke-linecap="butt"/>
<path d="M684 933.9L1072.8 1125.8M645.2 953.3L1034 1145.2M606.3 972.7L995.2 1164.6M567.5 992.1L956.3 1184M528.6 1011.5L917.5 1203.4M489.8 1030.9L878.6 1222.8M451 1050.3L839.8 1242.2M445.9 1052.8L834.8 1244.7M407.1 1072.2L795.9 1264.1M368.2 1091.6L757.1 1283.5M329.4 1111L718.2 1302.9" fill="none" stroke="#18242e" stroke-width="5" stroke-linecap="round" stroke-linejoin="round" stroke-linecap="butt"/>
<path d="M684 933.9L1072.8 1125.8M645.2 953.3L1034 1145.2M606.3 972.7L995.2 1164.6M567.5 992.1L956.3 1184M528.6 1011.5L917.5 1203.4M489.8 1030.9L878.6 1222.8M451 1050.3L839.8 1242.2M445.9 1052.8L834.8 1244.7M407.1 1072.2L795.9 1264.1M368.2 1091.6L757.1 1283.5M329.4 1111L718.2 1302.9" fill="none" stroke="#6f8ea6" stroke-width="3" stroke-linecap="round" stroke-linejoin="round" stroke-linecap="butt"/>
</g>
<path d="M786.3 1127.5L802.5 1121L807.7 1144.3L800 1175L801 1225L787 1243.9C775 1240 767 1232 767.6 1229.7C762 1215 762 1195 767.6 1183.1C773 1172 781 1165 788.3 1145.6Z" fill="#cbcbcb" stroke="#2a2a2a" stroke-width="1" stroke-linejoin="round" />
<path d="M789 1130C791 1150 786 1160 778 1172C770 1184 767 1200 770 1218C772 1228 778 1236 787 1241" fill="none" stroke="#8e8e8e" stroke-width="2.2" stroke-linecap="round" stroke-linejoin="round" />
<path d="M775.5 1207C775 1215 777 1224 780.5 1229.5" fill="none" stroke="#333" stroke-width="5.6" stroke-linecap="round" stroke-linejoin="round" />
<path d="M775.5 1207C775 1215 777 1224 780.5 1229.5" fill="none" stroke="#efefef" stroke-width="3.4" stroke-linecap="round" stroke-linejoin="round" />
<path d="M817.4 1112L831 1111.3L824.5 1141.7L819.3 1166.3C826 1172 828 1178 827.1 1186C828 1200 824 1210 819.3 1214.1C812 1221 806 1224 799.9 1224.5C795 1222 792 1218 792.2 1214.1C788 1205 790 1192 793.5 1185.7C798 1178 803 1172 805.1 1167.6L810.3 1141.7Z" fill="#aba79f" stroke="#2a2a2a" stroke-width="1" stroke-linejoin="round" />
<path d="M818.5 1114L811.5 1142L806.5 1168C803 1175 797 1182 795 1188C792 1197 792 1207 794.5 1215" fill="none" stroke="#8b8780" stroke-width="1.8" stroke-linecap="round" stroke-linejoin="round" />
<ellipse cx="812.6" cy="1198" rx="8.8" ry="9.4" fill="#c6c3bd" stroke="#2a2a2a" stroke-width="0.8"/>
<path d="M821.2 1198.3L816.9 1204.1L810 1203.1L807.4 1196.3L811.7 1190.5L818.6 1191.5Z" fill="#d4d1cb" stroke="#2a2a2a" stroke-width="0.8" stroke-linejoin="round" />
<path d="M788.3 1218L787 1246.5L797.3 1250.4L796.5 1232.2L802.5 1224.5Z" fill="#8d8a83" stroke="#222" stroke-width="0.9" stroke-linejoin="round" />
<path d="M756.6 997.2C756 985 764 981.5 771 982.4C780 983 786 987 785.7 994.7L794.7 1072.2L803.8 1114.6L786.3 1127.5L774.1 1117.2L766.3 1072.2Z" fill="#c5532c" stroke="#3a1a10" stroke-width="1.1" stroke-linejoin="round" />
<path d="M756.6 997.2C756 985 764 981.5 771 982.4C768 984 765 988 765.5 997L775 1072L782.5 1121L774.1 1117.2L766.3 1072.2Z" fill="#a8431f" stroke="none" stroke-width="0" stroke-linejoin="round" />
<path d="M765.5 997L775 1072L782.5 1122" fill="none" stroke="#6e2810" stroke-width="0.7" stroke-linecap="round" stroke-linejoin="round" />
<path d="M826.4 968.8C826 957 834 952.8 840 953.3C849 953.5 854 957 853.6 963.6L847.1 1072.2L840 1105.5L824.5 1111.3L814.1 1106.8L820.6 1072.2Z" fill="#c5532c" stroke="#3a1a10" stroke-width="1.1" stroke-linejoin="round" />
<path d="M826.4 968.8C826 957 834 952.8 840 953.3C837 955 834.5 959 834.5 968L829 1072L821.5 1109.5L814.1 1106.8L820.6 1072.2Z" fill="#a8431f" stroke="none" stroke-width="0" stroke-linejoin="round" />
<path d="M834.5 968L829 1072L821.5 1110" fill="none" stroke="#6e2810" stroke-width="0.7" stroke-linecap="round" stroke-linejoin="round" />
<path d="M742.4 1012.1L735.6 1023.2L734.1 1020.1L704.4 1034.6L701.4 1028.4L731 1013.8L729.4 1010.7Z" fill="#e8201f" stroke="#7a0c0c" stroke-width="0.8" stroke-linejoin="round"/>
<path d="M869.7 952.8L878 940.6L879.6 943.7L908 928.9L911.2 935.1L882.8 949.9L884.5 953Z" fill="#e8201f" stroke="#7a0c0c" stroke-width="0.8" stroke-linejoin="round"/>
</g>
<g transform="translate(973.5,688.8)">
<path d="M441.7 142.6L330.3 239.2M460.6 148.1L349.3 244.7M479.6 153.6L368.2 250.2M498.5 159.1L387.2 255.7M517.5 164.6L406.1 261.2M536.4 170.1L425.1 266.7M555.4 175.6L444 272.2M574.3 181.1L463 277.7M593.3 186.6L481.9 283.2M612.2 192.1L500.9 288.7M631.2 197.6L519.8 294.2M650.1 203.1L538.8 299.7M669.1 208.6L557.7 305.2M688 214.1L576.7 310.7M707 219.6L595.6 316.2M725.9 225.1L614.6 321.7M744.9 230.6L633.5 327.2M763.8 236.1L652.5 332.7M782.8 241.6L671.4 338.2M801.7 247.1L690.4 343.7M820.7 252.6L709.3 349.2M439.9 143.1L820.7 253.7M428.9 152.6L809.8 263.2M417.9 162.1L798.8 272.7M407 171.6L787.9 282.2M396 181.1L776.9 291.7M385.1 190.6L765.9 301.2M374.1 200.1L755 310.7M363.1 209.6L744 320.2M352.2 219.1L733.1 329.7M341.2 228.6L722.1 339.2M330.3 238.1L711.1 348.7M330.2 239.3L262.7 297.8M349.1 244.8L281.6 303.3M368.1 250.3L300.6 308.8M387 255.8L319.5 314.3M406 261.3L338.5 319.8M424.9 266.8L357.4 325.3M443.9 272.3L376.4 330.8M462.8 277.8L395.3 336.3M481.8 283.3L414.3 341.8M500.7 288.8L433.2 347.3M519.7 294.3L452.2 352.8M538.6 299.8L471.1 358.3M557.6 305.3L490.1 363.8M576.5 310.8L509 369.3M595.5 316.3L528 374.8M614.4 321.8L546.9 380.3M633.4 327.3L565.9 385.8M652.3 332.8L584.8 391.3M671.3 338.3L603.8 396.8M690.2 343.8L622.7 402.3M709.2 349.3L641.7 407.8M328.4 239.8L709.3 350.3M317.4 249.3L698.3 359.8M306.4 258.8L687.3 369.3M295.5 268.3L676.4 378.8M284.5 277.8L665.4 388.3M273.6 287.3L654.5 397.8M262.6 296.8L643.5 407.3M262.5 297.9L151.2 394.4M281.5 303.4L170.1 399.9M300.4 308.9L189.1 405.4M319.4 314.4L208 410.9M338.3 319.9L227 416.4M357.3 325.4L245.9 421.9M376.2 330.9L264.9 427.4M395.2 336.4L283.8 432.9M414.1 341.9L302.8 438.4M433.1 347.4L321.7 443.9M452 352.9L340.7 449.4M471 358.4L359.6 454.9M489.9 363.9L378.6 460.4M508.9 369.4L397.5 465.9M527.8 374.9L416.5 471.4M546.8 380.4L435.4 476.9M565.7 385.9L454.4 482.4M584.7 391.4L473.3 487.9M603.6 396.9L492.3 493.4M622.6 402.4L511.2 498.9M641.5 407.9L530.2 504.4M260.7 298.4L641.6 408.9M249.8 307.9L630.6 418.4M238.8 317.4L619.7 427.9M227.8 326.9L608.7 437.4M216.9 336.4L597.8 446.9M205.9 345.9L586.8 456.4M195 355.4L575.8 465.9M184 364.9L564.9 475.4M173 374.4L553.9 484.9M162.1 383.9L543 494.4M151.1 393.4L532 503.9M138.3 183.6L70.8 242.1M157.2 189.1L89.7 247.6M176.2 194.6L108.7 253.1M195.1 200.1L127.6 258.6M214.1 205.6L146.6 264.1M233 211.1L165.5 269.6M252 216.6L184.5 275.1M270.9 222.1L203.4 280.6M289.9 227.6L222.4 286.1M308.8 233.1L241.3 291.6M327.8 238.6L260.3 297.1M136.5 184.1L327.9 239.6M125.5 193.6L316.9 249.1M114.5 203.1L305.9 258.6M103.6 212.6L295 268.1M92.6 222.1L284 277.6M81.7 231.6L273.1 287.1M70.7 241.1L262.1 296.6M711.6 350L644.1 408.5M730.5 355.5L663 414M749.5 361L682 419.5M768.4 366.5L700.9 425M787.4 372L719.9 430.5M806.3 377.5L738.8 436M825.3 383L757.8 441.5M844.2 388.5L776.7 447M863.2 394L795.7 452.5M882.1 399.5L814.6 458M901.1 405L833.6 463.5M709.8 350.5L901.2 406M698.8 360L890.2 415.5M687.8 369.5L879.2 425M676.9 379L868.3 434.5M665.9 388.5L857.3 444M655 398L846.4 453.5M644 407.5L835.4 463" fill="none" stroke="#17181a" stroke-width="2.8" stroke-linecap="round" stroke-linejoin="round" />
<ellipse cx="358.1" cy="248.3" rx="2.4" ry="3.6" transform="rotate(-35 358.1 248.3)" fill="none" stroke="#0d0d0d" stroke-width="2.2"/>
<ellipse cx="290.5" cy="306.9" rx="2.4" ry="3.6" transform="rotate(-35 290.5 306.9)" fill="none" stroke="#0d0d0d" stroke-width="2.2"/>
<ellipse cx="396" cy="259.3" rx="2.4" ry="3.6" transform="rotate(-35 396 259.3)" fill="none" stroke="#0d0d0d" stroke-width="2.2"/>
<ellipse cx="328.4" cy="317.9" rx="2.4" ry="3.6" transform="rotate(-35 328.4 317.9)" fill="none" stroke="#0d0d0d" stroke-width="2.2"/>
<ellipse cx="433.9" cy="270.3" rx="2.4" ry="3.6" transform="rotate(-35 433.9 270.3)" fill="none" stroke="#0d0d0d" stroke-width="2.2"/>
<ellipse cx="366.3" cy="328.9" rx="2.4" ry="3.6" transform="rotate(-35 366.3 328.9)" fill="none" stroke="#0d0d0d" stroke-width="2.2"/>
<ellipse cx="471.8" cy="281.3" rx="2.4" ry="3.6" transform="rotate(-35 471.8 281.3)" fill="none" stroke="#0d0d0d" stroke-width="2.2"/>
<ellipse cx="404.2" cy="339.9" rx="2.4" ry="3.6" transform="rotate(-35 404.2 339.9)" fill="none" stroke="#0d0d0d" stroke-width="2.2"/>
<ellipse cx="509.7" cy="292.3" rx="2.4" ry="3.6" transform="rotate(-35 509.7 292.3)" fill="none" stroke="#0d0d0d" stroke-width="2.2"/>
<ellipse cx="442.1" cy="350.9" rx="2.4" ry="3.6" transform="rotate(-35 442.1 350.9)" fill="none" stroke="#0d0d0d" stroke-width="2.2"/>
<ellipse cx="547.6" cy="303.3" rx="2.4" ry="3.6" transform="rotate(-35 547.6 303.3)" fill="none" stroke="#0d0d0d" stroke-width="2.2"/>
<ellipse cx="480" cy="361.9" rx="2.4" ry="3.6" transform="rotate(-35 480 361.9)" fill="none" stroke="#0d0d0d" stroke-width="2.2"/>
<ellipse cx="585.5" cy="314.3" rx="2.4" ry="3.6" transform="rotate(-35 585.5 314.3)" fill="none" stroke="#0d0d0d" stroke-width="2.2"/>
<ellipse cx="517.9" cy="372.9" rx="2.4" ry="3.6" transform="rotate(-35 517.9 372.9)" fill="none" stroke="#0d0d0d" stroke-width="2.2"/>
<ellipse cx="623.4" cy="325.3" rx="2.4" ry="3.6" transform="rotate(-35 623.4 325.3)" fill="none" stroke="#0d0d0d" stroke-width="2.2"/>
<ellipse cx="555.8" cy="383.9" rx="2.4" ry="3.6" transform="rotate(-35 555.8 383.9)" fill="none" stroke="#0d0d0d" stroke-width="2.2"/>
<ellipse cx="661.3" cy="336.3" rx="2.4" ry="3.6" transform="rotate(-35 661.3 336.3)" fill="none" stroke="#0d0d0d" stroke-width="2.2"/>
<ellipse cx="593.7" cy="394.9" rx="2.4" ry="3.6" transform="rotate(-35 593.7 394.9)" fill="none" stroke="#0d0d0d" stroke-width="2.2"/>
<ellipse cx="699.2" cy="347.3" rx="2.4" ry="3.6" transform="rotate(-35 699.2 347.3)" fill="none" stroke="#0d0d0d" stroke-width="2.2"/>
<ellipse cx="631.6" cy="405.9" rx="2.4" ry="3.6" transform="rotate(-35 631.6 405.9)" fill="none" stroke="#0d0d0d" stroke-width="2.2"/>
<ellipse cx="317.2" cy="250.2" rx="2.4" ry="3.6" transform="rotate(-35 317.2 250.2)" fill="none" stroke="#0d0d0d" stroke-width="2.2"/>
<ellipse cx="698.6" cy="360.9" rx="2.4" ry="3.6" transform="rotate(-35 698.6 360.9)" fill="none" stroke="#0d0d0d" stroke-width="2.2"/>
<ellipse cx="295.2" cy="269.2" rx="2.4" ry="3.6" transform="rotate(-35 295.2 269.2)" fill="none" stroke="#0d0d0d" stroke-width="2.2"/>
<ellipse cx="676.6" cy="379.9" rx="2.4" ry="3.6" transform="rotate(-35 676.6 379.9)" fill="none" stroke="#0d0d0d" stroke-width="2.2"/>
<ellipse cx="273.3" cy="288.2" rx="2.4" ry="3.6" transform="rotate(-35 273.3 288.2)" fill="none" stroke="#0d0d0d" stroke-width="2.2"/>
<ellipse cx="654.7" cy="398.9" rx="2.4" ry="3.6" transform="rotate(-35 654.7 398.9)" fill="none" stroke="#0d0d0d" stroke-width="2.2"/>
<path d="M356.1 233.3L352.3 227.5L354.4 227.5L354.4 213.8L357.8 213.8L357.8 227.5L359.9 227.5Z" fill="#962628" stroke="#430a0c" stroke-width="0.7" stroke-linejoin="round"/>
<path d="M288.5 291.9L284.7 286.1L286.8 286.1L286.8 272.4L290.2 272.4L290.2 286.1L292.3 286.1Z" fill="#962628" stroke="#430a0c" stroke-width="0.7" stroke-linejoin="round"/>
<path d="M394 244.3L390.2 238.5L392.3 238.5L392.3 224.8L395.7 224.8L395.7 238.5L397.8 238.5Z" fill="#962628" stroke="#430a0c" stroke-width="0.7" stroke-linejoin="round"/>
<path d="M326.4 302.9L322.6 297.1L324.7 297.1L324.7 283.4L328.1 283.4L328.1 297.1L330.2 297.1Z" fill="#962628" stroke="#430a0c" stroke-width="0.7" stroke-linejoin="round"/>
<path d="M431.9 255.3L428.1 249.5L430.2 249.5L430.2 235.8L433.6 235.8L433.6 249.5L435.7 249.5Z" fill="#962628" stroke="#430a0c" stroke-width="0.7" stroke-linejoin="round"/>
<path d="M364.3 313.9L360.5 308.1L362.6 308.1L362.6 294.4L366 294.4L366 308.1L368.1 308.1Z" fill="#962628" stroke="#430a0c" stroke-width="0.7" stroke-linejoin="round"/>
<path d="M469.8 266.3L466 260.5L468.1 260.5L468.1 246.8L471.5 246.8L471.5 260.5L473.6 260.5Z" fill="#962628" stroke="#430a0c" stroke-width="0.7" stroke-linejoin="round"/>
<path d="M402.2 324.9L398.4 319.1L400.5 319.1L400.5 305.4L403.9 305.4L403.9 319.1L406 319.1Z" fill="#962628" stroke="#430a0c" stroke-width="0.7" stroke-linejoin="round"/>
<path d="M507.7 277.3L503.9 271.5L506 271.5L506 257.8L509.4 257.8L509.4 271.5L511.5 271.5Z" fill="#962628" stroke="#430a0c" stroke-width="0.7" stroke-linejoin="round"/>
<path d="M440.1 335.9L436.3 330.1L438.4 330.1L438.4 316.4L441.8 316.4L441.8 330.1L443.9 330.1Z" fill="#962628" stroke="#430a0c" stroke-width="0.7" stroke-linejoin="round"/>
<path d="M545.6 288.3L541.8 282.5L543.9 282.5L543.9 268.8L547.3 268.8L547.3 282.5L549.4 282.5Z" fill="#962628" stroke="#430a0c" stroke-width="0.7" stroke-linejoin="round"/>
<path d="M478 346.9L474.2 341.1L476.3 341.1L476.3 327.4L479.7 327.4L479.7 341.1L481.8 341.1Z" fill="#962628" stroke="#430a0c" stroke-width="0.7" stroke-linejoin="round"/>
<path d="M583.5 299.3L579.7 293.5L581.8 293.5L581.8 279.8L585.2 279.8L585.2 293.5L587.3 293.5Z" fill="#962628" stroke="#430a0c" stroke-width="0.7" stroke-linejoin="round"/>
<path d="M515.9 357.9L512.1 352.1L514.2 352.1L514.2 338.4L517.6 338.4L517.6 352.1L519.7 352.1Z" fill="#962628" stroke="#430a0c" stroke-width="0.7" stroke-linejoin="round"/>
<path d="M621.4 310.3L617.6 304.5L619.7 304.5L619.7 290.8L623.1 290.8L623.1 304.5L625.2 304.5Z" fill="#962628" stroke="#430a0c" stroke-width="0.7" stroke-linejoin="round"/>
<path d="M553.8 368.9L550 363.1L552.1 363.1L552.1 349.4L555.5 349.4L555.5 363.1L557.6 363.1Z" fill="#962628" stroke="#430a0c" stroke-width="0.7" stroke-linejoin="round"/>
<path d="M659.3 321.3L655.5 315.5L657.6 315.5L657.6 301.8L661 301.8L661 315.5L663.1 315.5Z" fill="#962628" stroke="#430a0c" stroke-width="0.7" stroke-linejoin="round"/>
<path d="M591.7 379.9L587.9 374.1L590 374.1L590 360.4L593.4 360.4L593.4 374.1L595.5 374.1Z" fill="#962628" stroke="#430a0c" stroke-width="0.7" stroke-linejoin="round"/>
<path d="M697.2 332.3L693.4 326.5L695.5 326.5L695.5 312.8L698.9 312.8L698.9 326.5L701 326.5Z" fill="#962628" stroke="#430a0c" stroke-width="0.7" stroke-linejoin="round"/>
<path d="M629.6 390.9L625.8 385.1L627.9 385.1L627.9 371.4L631.3 371.4L631.3 385.1L633.4 385.1Z" fill="#962628" stroke="#430a0c" stroke-width="0.7" stroke-linejoin="round"/>
<path d="M315.2 235.2L311.4 229.4L313.5 229.4L313.5 215.7L316.9 215.7L316.9 229.4L319 229.4Z" fill="#962628" stroke="#430a0c" stroke-width="0.7" stroke-linejoin="round"/>
<path d="M696.6 345.9L692.8 340.1L694.9 340.1L694.9 326.4L698.3 326.4L698.3 340.1L700.4 340.1Z" fill="#962628" stroke="#430a0c" stroke-width="0.7" stroke-linejoin="round"/>
<path d="M293.2 254.2L289.4 248.4L291.5 248.4L291.5 234.7L294.9 234.7L294.9 248.4L297 248.4Z" fill="#962628" stroke="#430a0c" stroke-width="0.7" stroke-linejoin="round"/>
<path d="M674.6 364.9L670.8 359.1L672.9 359.1L672.9 345.4L676.3 345.4L676.3 359.1L678.4 359.1Z" fill="#962628" stroke="#430a0c" stroke-width="0.7" stroke-linejoin="round"/>
<path d="M271.3 273.2L267.5 267.4L269.6 267.4L269.6 253.7L273 253.7L273 267.4L275.1 267.4Z" fill="#962628" stroke="#430a0c" stroke-width="0.7" stroke-linejoin="round"/>
<path d="M652.7 383.9L648.9 378.1L651 378.1L651 364.4L654.4 364.4L654.4 378.1L656.5 378.1Z" fill="#962628" stroke="#430a0c" stroke-width="0.7" stroke-linejoin="round"/>
</g>
<g transform="translate(0,1377.6)">
<path d="M203.9 387.6L322.3 328.4M223.3 397.4L341.6 338.2M242.7 407.2L361 348.1M262.1 417L380.4 357.9M281.4 426.9L399.8 367.7M300.8 436.7L419.2 377.5M320.2 446.5L438.6 387.3M339.6 456.3L457.9 397.2M359 466.1L477.3 407M378.3 476L496.7 416.8M397.7 485.8L516.1 426.6M417.1 495.6L535.4 436.4M436.5 505.4L554.8 446.3M455.9 515.2L574.2 456.1M475.2 525.1L593.6 465.9M494.6 534.9L613 475.7M514 544.7L632.4 485.5M533.4 554.5L651.7 495.4M552.8 564.3L671.1 505.2M572.1 574.2L690.5 515M591.5 584L709.9 524.8M203.9 386.6L593.5 584M223.3 376.9L612.9 574.3M242.7 367.2L632.3 564.6M262.1 357.5L651.7 554.9M281.5 347.8L671.1 545.2M300.9 338.1L690.5 535.5M320.3 328.4L709.9 525.8M328.6 331.3L328.6 93M347.8 341.1L347.8 102.7M367 350.8L367 112.5M386.3 360.6L386.3 122.2M405.5 370.3L405.5 131.9M424.7 380.1L424.7 141.7M444 389.8L444 151.4M463.2 399.5L463.2 161.2M482.4 409.3L482.4 170.9M501.7 419L501.7 180.7M520.9 428.8L520.9 190.4M540.2 438.5L540.2 200.2M559.4 448.3L559.4 209.9M578.6 458L578.6 219.7M597.9 467.8L597.9 229.4M617.1 477.5L617.1 239.2M636.3 487.3L636.3 248.9M655.6 497L655.6 258.7M674.8 506.8L674.8 268.4M694 516.5L694 278.1M713.3 526.2L713.3 287.9M327.6 329.7L714.2 525.6M327.6 306.1L714.2 502M327.6 282.5L714.2 478.4M327.6 258.9L714.2 454.8M327.6 235.3L714.2 431.2M327.6 211.7L714.2 407.6M327.6 188.1L714.2 384M327.6 164.5L714.2 360.4M327.6 140.9L714.2 336.8M327.6 117.3L714.2 313.2M327.6 93.7L714.2 289.6M204.9 388.3L204.9 149.9M224.3 378.6L224.3 140.2M243.7 368.9L243.7 130.5M263.1 359.2L263.1 120.8M282.5 349.5L282.5 111.1M301.9 339.8L301.9 101.4M321.3 330.1L321.3 91.7M203.9 387.6L322.3 328.4M203.9 364L322.3 304.8M203.9 340.4L322.3 281.2M203.9 316.8L322.3 257.6M203.9 293.2L322.3 234M203.9 269.6L322.3 210.4M203.9 246L322.3 186.8M203.9 222.4L322.3 163.2M203.9 198.8L322.3 139.6M203.9 175.2L322.3 116M203.9 151.6L322.3 92.4M597.5 584.7L597.5 346.3M616.9 575L616.9 336.6M636.3 565.3L636.3 326.9M655.7 555.6L655.7 317.2M675.1 545.9L675.1 307.5M694.5 536.2L694.5 297.8M713.9 526.5L713.9 288.1M596.6 584L714.9 524.8M596.6 560.4L714.9 501.2M596.6 536.8L714.9 477.6M596.6 513.2L714.9 454M596.6 489.6L714.9 430.4M596.6 466L714.9 406.8M596.6 442.4L714.9 383.2M596.6 418.8L714.9 359.6M596.6 395.2L714.9 336M596.6 371.6L714.9 312.4M596.6 348L714.9 288.8M204.9 388.3L204.9 149.9M224.3 398.1L224.3 159.7M243.7 407.9L243.7 169.6M263 417.7L263 179.4M282.4 427.6L282.4 189.2M301.8 437.4L301.8 199M321.2 447.2L321.2 208.8M340.6 457L340.6 218.7M359.9 466.8L359.9 228.5M379.3 476.7L379.3 238.3M398.7 486.5L398.7 248.1M418.1 496.3L418.1 257.9M437.5 506.1L437.5 267.8M456.8 515.9L456.8 277.6M476.2 525.8L476.2 287.4M495.6 535.6L495.6 297.2M515 545.4L515 307M534.4 555.2L534.4 316.9M553.7 565L553.7 326.7M573.1 574.9L573.1 336.5M592.5 584.7L592.5 346.3M203.9 386.6L593.5 584M203.9 363L593.5 560.4M203.9 339.4L593.5 536.8M203.9 315.8L593.5 513.2M203.9 292.2L593.5 489.6M203.9 268.6L593.5 466M203.9 245L593.5 442.4M203.9 221.4L593.5 418.8M203.9 197.8L593.5 395.2M203.9 174.2L593.5 371.6M203.9 150.6L593.5 348" fill="none" stroke="#1a1e22" stroke-width="3.1" stroke-linecap="round" stroke-linejoin="round" />
<path d="M203.9 387.6L322.3 328.4M223.3 397.4L341.6 338.2M242.7 407.2L361 348.1M262.1 417L380.4 357.9M281.4 426.9L399.8 367.7M300.8 436.7L419.2 377.5M320.2 446.5L438.6 387.3M339.6 456.3L457.9 397.2M359 466.1L477.3 407M378.3 476L496.7 416.8M397.7 485.8L516.1 426.6M417.1 495.6L535.4 436.4M436.5 505.4L554.8 446.3M455.9 515.2L574.2 456.1M475.2 525.1L593.6 465.9M494.6 534.9L613 475.7M514 544.7L632.4 485.5M533.4 554.5L651.7 495.4M552.8 564.3L671.1 505.2M572.1 574.2L690.5 515M591.5 584L709.9 524.8M203.9 386.6L593.5 584M223.3 376.9L612.9 574.3M242.7 367.2L632.3 564.6M262.1 357.5L651.7 554.9M281.5 347.8L671.1 545.2M300.9 338.1L690.5 535.5M320.3 328.4L709.9 525.8M328.6 331.3L328.6 93M347.8 341.1L347.8 102.7M367 350.8L367 112.5M386.3 360.6L386.3 122.2M405.5 370.3L405.5 131.9M424.7 380.1L424.7 141.7M444 389.8L444 151.4M463.2 399.5L463.2 161.2M482.4 409.3L482.4 170.9M501.7 419L501.7 180.7M520.9 428.8L520.9 190.4M540.2 438.5L540.2 200.2M559.4 448.3L559.4 209.9M578.6 458L578.6 219.7M597.9 467.8L597.9 229.4M617.1 477.5L617.1 239.2M636.3 487.3L636.3 248.9M655.6 497L655.6 258.7M674.8 506.8L674.8 268.4M694 516.5L694 278.1M713.3 526.2L713.3 287.9M327.6 329.7L714.2 525.6M327.6 306.1L714.2 502M327.6 282.5L714.2 478.4M327.6 258.9L714.2 454.8M327.6 235.3L714.2 431.2M327.6 211.7L714.2 407.6M327.6 188.1L714.2 384M327.6 164.5L714.2 360.4M327.6 140.9L714.2 336.8M327.6 117.3L714.2 313.2M327.6 93.7L714.2 289.6M204.9 388.3L204.9 149.9M224.3 378.6L224.3 140.2M243.7 368.9L243.7 130.5M263.1 359.2L263.1 120.8M282.5 349.5L282.5 111.1M301.9 339.8L301.9 101.4M321.3 330.1L321.3 91.7M203.9 387.6L322.3 328.4M203.9 364L322.3 304.8M203.9 340.4L322.3 281.2M203.9 316.8L322.3 257.6M203.9 293.2L322.3 234M203.9 269.6L322.3 210.4M203.9 246L322.3 186.8M203.9 222.4L322.3 163.2M203.9 198.8L322.3 139.6M203.9 175.2L322.3 116M203.9 151.6L322.3 92.4M597.5 584.7L597.5 346.3M616.9 575L616.9 336.6M636.3 565.3L636.3 326.9M655.7 555.6L655.7 317.2M675.1 545.9L675.1 307.5M694.5 536.2L694.5 297.8M713.9 526.5L713.9 288.1M596.6 584L714.9 524.8M596.6 560.4L714.9 501.2M596.6 536.8L714.9 477.6M596.6 513.2L714.9 454M596.6 489.6L714.9 430.4M596.6 466L714.9 406.8M596.6 442.4L714.9 383.2M596.6 418.8L714.9 359.6M596.6 395.2L714.9 336M596.6 371.6L714.9 312.4M596.6 348L714.9 288.8M204.9 388.3L204.9 149.9M224.3 398.1L224.3 159.7M243.7 407.9L243.7 169.6M263 417.7L263 179.4M282.4 427.6L282.4 189.2M301.8 437.4L301.8 199M321.2 447.2L321.2 208.8M340.6 457L340.6 218.7M359.9 466.8L359.9 228.5M379.3 476.7L379.3 238.3M398.7 486.5L398.7 248.1M418.1 496.3L418.1 257.9M437.5 506.1L437.5 267.8M456.8 515.9L456.8 277.6M476.2 525.8L476.2 287.4M495.6 535.6L495.6 297.2M515 545.4L515 307M534.4 555.2L534.4 316.9M553.7 565L553.7 326.7M573.1 574.9L573.1 336.5M592.5 584.7L592.5 346.3M203.9 386.6L593.5 584M203.9 363L593.5 560.4M203.9 339.4L593.5 536.8M203.9 315.8L593.5 513.2M203.9 292.2L593.5 489.6M203.9 268.6L593.5 466M203.9 245L593.5 442.4M203.9 221.4L593.5 418.8M203.9 197.8L593.5 395.2M203.9 174.2L593.5 371.6M203.9 150.6L593.5 348" fill="none" stroke="#414a53" stroke-width="0.8" stroke-linecap="round" stroke-linejoin="round" />
<ellipse cx="204.4" cy="190.5" rx="5.6" ry="2.6" transform="rotate(0 204.4 190.5)" fill="none" stroke="#101214" stroke-width="2.3"/>
<ellipse cx="204.4" cy="237.7" rx="5.6" ry="2.6" transform="rotate(0 204.4 237.7)" fill="none" stroke="#101214" stroke-width="2.3"/>
<ellipse cx="204.4" cy="284.9" rx="5.6" ry="2.6" transform="rotate(0 204.4 284.9)" fill="none" stroke="#101214" stroke-width="2.3"/>
<ellipse cx="204.4" cy="332.1" rx="5.6" ry="2.6" transform="rotate(0 204.4 332.1)" fill="none" stroke="#101214" stroke-width="2.3"/>
<ellipse cx="204.4" cy="379.3" rx="5.6" ry="2.6" transform="rotate(0 204.4 379.3)" fill="none" stroke="#101214" stroke-width="2.3"/>
<ellipse cx="324.9" cy="132.9" rx="7.4" ry="3" transform="rotate(0 324.9 132.9)" fill="none" stroke="#101214" stroke-width="2.5"/>
<ellipse cx="324.9" cy="180.1" rx="7.4" ry="3" transform="rotate(0 324.9 180.1)" fill="none" stroke="#101214" stroke-width="2.5"/>
<ellipse cx="324.9" cy="227.3" rx="7.4" ry="3" transform="rotate(0 324.9 227.3)" fill="none" stroke="#101214" stroke-width="2.5"/>
<ellipse cx="324.9" cy="274.5" rx="7.4" ry="3" transform="rotate(0 324.9 274.5)" fill="none" stroke="#101214" stroke-width="2.5"/>
<ellipse cx="324.9" cy="321.7" rx="7.4" ry="3" transform="rotate(0 324.9 321.7)" fill="none" stroke="#101214" stroke-width="2.5"/>
<ellipse cx="595" cy="386.9" rx="6.4" ry="2.8" transform="rotate(0 595 386.9)" fill="none" stroke="#101214" stroke-width="2.5"/>
<ellipse cx="595" cy="434.1" rx="6.4" ry="2.8" transform="rotate(0 595 434.1)" fill="none" stroke="#101214" stroke-width="2.5"/>
<ellipse cx="595" cy="481.3" rx="6.4" ry="2.8" transform="rotate(0 595 481.3)" fill="none" stroke="#101214" stroke-width="2.5"/>
<ellipse cx="595" cy="528.5" rx="6.4" ry="2.8" transform="rotate(0 595 528.5)" fill="none" stroke="#101214" stroke-width="2.5"/>
<ellipse cx="595" cy="575.7" rx="6.4" ry="2.8" transform="rotate(0 595 575.7)" fill="none" stroke="#101214" stroke-width="2.5"/>
<ellipse cx="715.4" cy="328.7" rx="4.2" ry="3.2" transform="rotate(0 715.4 328.7)" fill="none" stroke="#101214" stroke-width="2.2"/>
<ellipse cx="715.4" cy="375.9" rx="4.2" ry="3.2" transform="rotate(0 715.4 375.9)" fill="none" stroke="#101214" stroke-width="2.2"/>
<ellipse cx="715.4" cy="423.1" rx="4.2" ry="3.2" transform="rotate(0 715.4 423.1)" fill="none" stroke="#101214" stroke-width="2.2"/>
<ellipse cx="715.4" cy="470.3" rx="4.2" ry="3.2" transform="rotate(0 715.4 470.3)" fill="none" stroke="#101214" stroke-width="2.2"/>
<ellipse cx="715.4" cy="517.5" rx="4.2" ry="3.2" transform="rotate(0 715.4 517.5)" fill="none" stroke="#101214" stroke-width="2.2"/>
<ellipse cx="231.5" cy="401.8" rx="3.6" ry="4.6" transform="rotate(-25 231.5 401.8)" fill="none" stroke="#101214" stroke-width="2.2"/>
<ellipse cx="348.9" cy="340.9" rx="3.4" ry="4.2" transform="rotate(-25 348.9 340.9)" fill="none" stroke="#101214" stroke-width="2"/>
<ellipse cx="270.2" cy="421.4" rx="3.6" ry="4.6" transform="rotate(-25 270.2 421.4)" fill="none" stroke="#101214" stroke-width="2.2"/>
<ellipse cx="387.6" cy="360.5" rx="3.4" ry="4.2" transform="rotate(-25 387.6 360.5)" fill="none" stroke="#101214" stroke-width="2"/>
<ellipse cx="309" cy="441" rx="3.6" ry="4.6" transform="rotate(-25 309 441)" fill="none" stroke="#101214" stroke-width="2.2"/>
<ellipse cx="426.4" cy="380.1" rx="3.4" ry="4.2" transform="rotate(-25 426.4 380.1)" fill="none" stroke="#101214" stroke-width="2"/>
<ellipse cx="347.7" cy="460.7" rx="3.6" ry="4.6" transform="rotate(-25 347.7 460.7)" fill="none" stroke="#101214" stroke-width="2.2"/>
<ellipse cx="465.1" cy="399.8" rx="3.4" ry="4.2" transform="rotate(-25 465.1 399.8)" fill="none" stroke="#101214" stroke-width="2"/>
<ellipse cx="386.5" cy="480.3" rx="3.6" ry="4.6" transform="rotate(-25 386.5 480.3)" fill="none" stroke="#101214" stroke-width="2.2"/>
<ellipse cx="503.9" cy="419.4" rx="3.4" ry="4.2" transform="rotate(-25 503.9 419.4)" fill="none" stroke="#101214" stroke-width="2"/>
<ellipse cx="425.3" cy="500" rx="3.6" ry="4.6" transform="rotate(-25 425.3 500)" fill="none" stroke="#101214" stroke-width="2.2"/>
<ellipse cx="542.7" cy="439.1" rx="3.4" ry="4.2" transform="rotate(-25 542.7 439.1)" fill="none" stroke="#101214" stroke-width="2"/>
<ellipse cx="464" cy="519.6" rx="3.6" ry="4.6" transform="rotate(-25 464 519.6)" fill="none" stroke="#101214" stroke-width="2.2"/>
<ellipse cx="581.4" cy="458.7" rx="3.4" ry="4.2" transform="rotate(-25 581.4 458.7)" fill="none" stroke="#101214" stroke-width="2"/>
<ellipse cx="502.8" cy="539.2" rx="3.6" ry="4.6" transform="rotate(-25 502.8 539.2)" fill="none" stroke="#101214" stroke-width="2.2"/>
<ellipse cx="620.2" cy="478.3" rx="3.4" ry="4.2" transform="rotate(-25 620.2 478.3)" fill="none" stroke="#101214" stroke-width="2"/>
<ellipse cx="541.5" cy="558.9" rx="3.6" ry="4.6" transform="rotate(-25 541.5 558.9)" fill="none" stroke="#101214" stroke-width="2.2"/>
<ellipse cx="658.9" cy="498" rx="3.4" ry="4.2" transform="rotate(-25 658.9 498)" fill="none" stroke="#101214" stroke-width="2"/>
<ellipse cx="580.3" cy="578.5" rx="3.6" ry="4.6" transform="rotate(-25 580.3 578.5)" fill="none" stroke="#101214" stroke-width="2.2"/>
<ellipse cx="697.7" cy="517.6" rx="3.4" ry="4.2" transform="rotate(-25 697.7 517.6)" fill="none" stroke="#101214" stroke-width="2"/>
<ellipse cx="234" cy="373.6" rx="3.4" ry="4.2" transform="rotate(25 234 373.6)" fill="none" stroke="#101214" stroke-width="2"/>
<ellipse cx="626.6" cy="570" rx="3.4" ry="4.2" transform="rotate(25 626.6 570)" fill="none" stroke="#101214" stroke-width="2"/>
<ellipse cx="272.8" cy="354.2" rx="3.4" ry="4.2" transform="rotate(25 272.8 354.2)" fill="none" stroke="#101214" stroke-width="2"/>
<ellipse cx="665.4" cy="550.6" rx="3.4" ry="4.2" transform="rotate(25 665.4 550.6)" fill="none" stroke="#101214" stroke-width="2"/>
<path d="M197.9 187L189.4 186.7L190.5 184.8L177.9 177.6L179.7 174.5L192.3 181.7L193.4 179.8Z" fill="#b3262a" stroke="#5a1012" stroke-width="0.7" stroke-linejoin="round"/>
<path d="M197.9 234.2L189.4 233.9L190.5 232L177.9 224.8L179.7 221.7L192.3 228.9L193.4 227Z" fill="#b3262a" stroke="#5a1012" stroke-width="0.7" stroke-linejoin="round"/>
<path d="M197.9 281.4L189.4 281.1L190.5 279.2L177.9 272L179.7 268.9L192.3 276.1L193.4 274.2Z" fill="#b3262a" stroke="#5a1012" stroke-width="0.7" stroke-linejoin="round"/>
<path d="M197.9 328.6L189.4 328.3L190.5 326.4L177.9 319.2L179.7 316.1L192.3 323.3L193.4 321.4Z" fill="#b3262a" stroke="#5a1012" stroke-width="0.7" stroke-linejoin="round"/>
<path d="M197.9 375.8L189.4 375.5L190.5 373.6L177.9 366.4L179.7 363.3L192.3 370.5L193.4 368.6Z" fill="#b3262a" stroke="#5a1012" stroke-width="0.7" stroke-linejoin="round"/>
<path d="M316.9 128.4L308.4 128.1L309.5 126.2L297 119L298.8 115.9L311.3 123.1L312.4 121.2Z" fill="#b3262a" stroke="#5a1012" stroke-width="0.7" stroke-linejoin="round"/>
<path d="M316.9 175.6L308.4 175.3L309.5 173.4L297 166.2L298.8 163.1L311.3 170.3L312.4 168.4Z" fill="#b3262a" stroke="#5a1012" stroke-width="0.7" stroke-linejoin="round"/>
<path d="M316.9 222.8L308.4 222.5L309.5 220.6L297 213.4L298.8 210.3L311.3 217.5L312.4 215.6Z" fill="#b3262a" stroke="#5a1012" stroke-width="0.7" stroke-linejoin="round"/>
<path d="M316.9 270L308.4 269.7L309.5 267.8L297 260.6L298.8 257.5L311.3 264.7L312.4 262.8Z" fill="#b3262a" stroke="#5a1012" stroke-width="0.7" stroke-linejoin="round"/>
<path d="M316.9 317.2L308.4 316.9L309.5 315L297 307.8L298.8 304.7L311.3 311.9L312.4 310Z" fill="#b3262a" stroke="#5a1012" stroke-width="0.7" stroke-linejoin="round"/>
<path d="M603 391.1L611.5 390.7L610.6 392.7L624.6 399.2L623.1 402.5L609.1 395.9L608.1 397.9Z" fill="#b3262a" stroke="#5a1012" stroke-width="0.7" stroke-linejoin="round"/>
<path d="M603 438.3L611.5 437.9L610.6 439.9L624.6 446.4L623.1 449.7L609.1 443.1L608.1 445.1Z" fill="#b3262a" stroke="#5a1012" stroke-width="0.7" stroke-linejoin="round"/>
<path d="M603 485.5L611.5 485.1L610.6 487.1L624.6 493.6L623.1 496.9L609.1 490.3L608.1 492.3Z" fill="#b3262a" stroke="#5a1012" stroke-width="0.7" stroke-linejoin="round"/>
<path d="M603 532.7L611.5 532.3L610.6 534.3L624.6 540.8L623.1 544.1L609.1 537.5L608.1 539.5Z" fill="#b3262a" stroke="#5a1012" stroke-width="0.7" stroke-linejoin="round"/>
<path d="M603 579.9L611.5 579.5L610.6 581.5L624.6 588L623.1 591.3L609.1 584.7L608.1 586.7Z" fill="#b3262a" stroke="#5a1012" stroke-width="0.7" stroke-linejoin="round"/>
<path d="M722.4 332.5L730.9 332.1L730 334.1L744 340.6L742.5 343.9L728.5 337.3L727.5 339.3Z" fill="#b3262a" stroke="#5a1012" stroke-width="0.7" stroke-linejoin="round"/>
<path d="M722.4 379.7L730.9 379.3L730 381.3L744 387.8L742.5 391.1L728.5 384.5L727.5 386.5Z" fill="#b3262a" stroke="#5a1012" stroke-width="0.7" stroke-linejoin="round"/>
<path d="M722.4 426.9L730.9 426.5L730 428.5L744 435L742.5 438.3L728.5 431.7L727.5 433.7Z" fill="#b3262a" stroke="#5a1012" stroke-width="0.7" stroke-linejoin="round"/>
<path d="M722.4 474.1L730.9 473.7L730 475.7L744 482.2L742.5 485.5L728.5 478.9L727.5 480.9Z" fill="#b3262a" stroke="#5a1012" stroke-width="0.7" stroke-linejoin="round"/>
<path d="M722.4 521.3L730.9 520.9L730 522.9L744 529.4L742.5 532.7L728.5 526.1L727.5 528.1Z" fill="#b3262a" stroke="#5a1012" stroke-width="0.7" stroke-linejoin="round"/>
</g>
<g transform="translate(973.5,1377.6)">
<path d="M240.7 386.7L359.7 327.2M260.2 396.4L379.2 337M279.8 406.2L398.7 346.7M299.3 416L418.2 356.5M318.8 425.7L437.8 366.3M338.3 435.5L457.3 376M357.8 445.2L476.8 385.8M377.4 455L496.3 395.5M396.9 464.8L515.8 405.3M416.4 474.5L535.4 415.1M435.9 484.3L554.9 424.8M455.4 494L574.4 434.6M475 503.8L593.9 444.3M494.5 513.6L613.4 454.1M514 523.3L633 463.9M533.5 533.1L652.5 473.6M553 542.8L672 483.4M572.6 552.6L691.5 493.1M592.1 562.4L711 502.9M611.6 572.1L730.6 512.7M631.1 581.9L750.1 522.4M240.7 385.7L633.1 581.9M260.2 376L652.6 572.1M279.7 366.2L672.1 562.4M299.2 356.5L691.6 552.6M318.7 346.7L711.1 542.9M338.2 337L730.6 533.1M357.7 327.2L750.1 523.4M366 330.1L366 90.7M385.4 339.8L385.4 100.4M404.8 349.5L404.8 110.1M424.1 359.2L424.1 119.8M443.5 368.9L443.5 129.5M462.9 378.5L462.9 139.2M482.3 388.2L482.3 148.9M501.6 397.9L501.6 158.5M521 407.6L521 168.2M540.4 417.3L540.4 177.9M559.8 427L559.8 187.6M579.1 436.7L579.1 197.3M598.5 446.3L598.5 207M617.9 456L617.9 216.7M637.2 465.7L637.2 226.4M656.6 475.4L656.6 236M676 485.1L676 245.7M695.4 494.8L695.4 255.4M714.7 504.5L714.7 265.1M734.1 514.2L734.1 274.8M753.5 523.8L753.5 284.5M365 328.4L754.5 523.1M365 304.7L754.5 499.4M365 281L754.5 475.7M365 257.3L754.5 452M365 233.6L754.5 428.3M365 209.9L754.5 404.6M365 186.2L754.5 380.9M365 162.5L754.5 357.2M365 138.8L754.5 333.5M365 115.1L754.5 309.8M365 91.4L754.5 286.1M241.7 387.4L241.7 148M261.2 377.6L261.2 138.3M280.7 367.9L280.7 128.5M300.2 358.1L300.2 118.8M319.7 348.4L319.7 109M339.2 338.6L339.2 99.3M358.7 328.9L358.7 89.5M240.7 386.7L359.7 327.2M240.7 363L359.7 303.5M240.7 339.3L359.7 279.8M240.7 315.6L359.7 256.1M240.7 291.9L359.7 232.4M240.7 268.2L359.7 208.7M240.7 244.5L359.7 185M240.7 220.8L359.7 161.3M240.7 197.1L359.7 137.6M240.7 173.4L359.7 113.9M240.7 149.7L359.7 90.2M637.2 582.6L637.2 343.2M656.7 572.8L656.7 333.5M676.2 563.1L676.2 323.7M695.7 553.3L695.7 314M715.2 543.6L715.2 304.2M734.7 533.8L734.7 294.5M754.2 524.1L754.2 284.7M636.2 581.9L755.1 522.4M636.2 558.2L755.1 498.7M636.2 534.5L755.1 475M636.2 510.8L755.1 451.3M636.2 487.1L755.1 427.6M636.2 463.4L755.1 403.9M636.2 439.7L755.1 380.2M636.2 416L755.1 356.5M636.2 392.3L755.1 332.8M636.2 368.6L755.1 309.1M636.2 344.9L755.1 285.4M241.7 387.4L241.7 148M261.2 397.1L261.2 157.8M280.7 406.9L280.7 167.5M300.3 416.7L300.3 177.3M319.8 426.4L319.8 187.1M339.3 436.2L339.3 196.8M358.8 445.9L358.8 206.6M378.3 455.7L378.3 216.3M397.9 465.5L397.9 226.1M417.4 475.2L417.4 235.9M436.9 485L436.9 245.6M456.4 494.7L456.4 255.4M475.9 504.5L475.9 265.1M495.5 514.3L495.5 274.9M515 524L515 284.7M534.5 533.8L534.5 294.4M554 543.5L554 304.2M573.5 553.3L573.5 313.9M593.1 563.1L593.1 323.7M612.6 572.8L612.6 333.5M632.1 582.6L632.1 343.2M240.7 385.7L633.1 581.9M240.7 362L633.1 558.2M240.7 338.3L633.1 534.5M240.7 314.6L633.1 510.8M240.7 290.9L633.1 487.1M240.7 267.2L633.1 463.4M240.7 243.5L633.1 439.7M240.7 219.8L633.1 416M240.7 196.1L633.1 392.3M240.7 172.4L633.1 368.6M240.7 148.7L633.1 344.9" fill="none" stroke="#1a1e22" stroke-width="3.1" stroke-linecap="round" stroke-linejoin="round" />
<path d="M240.7 386.7L359.7 327.2M260.2 396.4L379.2 337M279.8 406.2L398.7 346.7M299.3 416L418.2 356.5M318.8 425.7L437.8 366.3M338.3 435.5L457.3 376M357.8 445.2L476.8 385.8M377.4 455L496.3 395.5M396.9 464.8L515.8 405.3M416.4 474.5L535.4 415.1M435.9 484.3L554.9 424.8M455.4 494L574.4 434.6M475 503.8L593.9 444.3M494.5 513.6L613.4 454.1M514 523.3L633 463.9M533.5 533.1L652.5 473.6M553 542.8L672 483.4M572.6 552.6L691.5 493.1M592.1 562.4L711 502.9M611.6 572.1L730.6 512.7M631.1 581.9L750.1 522.4M240.7 385.7L633.1 581.9M260.2 376L652.6 572.1M279.7 366.2L672.1 562.4M299.2 356.5L691.6 552.6M318.7 346.7L711.1 542.9M338.2 337L730.6 533.1M357.7 327.2L750.1 523.4M366 330.1L366 90.7M385.4 339.8L385.4 100.4M404.8 349.5L404.8 110.1M424.1 359.2L424.1 119.8M443.5 368.9L443.5 129.5M462.9 378.5L462.9 139.2M482.3 388.2L482.3 148.9M501.6 397.9L501.6 158.5M521 407.6L521 168.2M540.4 417.3L540.4 177.9M559.8 427L559.8 187.6M579.1 436.7L579.1 197.3M598.5 446.3L598.5 207M617.9 456L617.9 216.7M637.2 465.7L637.2 226.4M656.6 475.4L656.6 236M676 485.1L676 245.7M695.4 494.8L695.4 255.4M714.7 504.5L714.7 265.1M734.1 514.2L734.1 274.8M753.5 523.8L753.5 284.5M365 328.4L754.5 523.1M365 304.7L754.5 499.4M365 281L754.5 475.7M365 257.3L754.5 452M365 233.6L754.5 428.3M365 209.9L754.5 404.6M365 186.2L754.5 380.9M365 162.5L754.5 357.2M365 138.8L754.5 333.5M365 115.1L754.5 309.8M365 91.4L754.5 286.1M241.7 387.4L241.7 148M261.2 377.6L261.2 138.3M280.7 367.9L280.7 128.5M300.2 358.1L300.2 118.8M319.7 348.4L319.7 109M339.2 338.6L339.2 99.3M358.7 328.9L358.7 89.5M240.7 386.7L359.7 327.2M240.7 363L359.7 303.5M240.7 339.3L359.7 279.8M240.7 315.6L359.7 256.1M240.7 291.9L359.7 232.4M240.7 268.2L359.7 208.7M240.7 244.5L359.7 185M240.7 220.8L359.7 161.3M240.7 197.1L359.7 137.6M240.7 173.4L359.7 113.9M240.7 149.7L359.7 90.2M637.2 582.6L637.2 343.2M656.7 572.8L656.7 333.5M676.2 563.1L676.2 323.7M695.7 553.3L695.7 314M715.2 543.6L715.2 304.2M734.7 533.8L734.7 294.5M754.2 524.1L754.2 284.7M636.2 581.9L755.1 522.4M636.2 558.2L755.1 498.7M636.2 534.5L755.1 475M636.2 510.8L755.1 451.3M636.2 487.1L755.1 427.6M636.2 463.4L755.1 403.9M636.2 439.7L755.1 380.2M636.2 416L755.1 356.5M636.2 392.3L755.1 332.8M636.2 368.6L755.1 309.1M636.2 344.9L755.1 285.4M241.7 387.4L241.7 148M261.2 397.1L261.2 157.8M280.7 406.9L280.7 167.5M300.3 416.7L300.3 177.3M319.8 426.4L319.8 187.1M339.3 436.2L339.3 196.8M358.8 445.9L358.8 206.6M378.3 455.7L378.3 216.3M397.9 465.5L397.9 226.1M417.4 475.2L417.4 235.9M436.9 485L436.9 245.6M456.4 494.7L456.4 255.4M475.9 504.5L475.9 265.1M495.5 514.3L495.5 274.9M515 524L515 284.7M534.5 533.8L534.5 294.4M554 543.5L554 304.2M573.5 553.3L573.5 313.9M593.1 563.1L593.1 323.7M612.6 572.8L612.6 333.5M632.1 582.6L632.1 343.2M240.7 385.7L633.1 581.9M240.7 362L633.1 558.2M240.7 338.3L633.1 534.5M240.7 314.6L633.1 510.8M240.7 290.9L633.1 487.1M240.7 267.2L633.1 463.4M240.7 243.5L633.1 439.7M240.7 219.8L633.1 416M240.7 196.1L633.1 392.3M240.7 172.4L633.1 368.6M240.7 148.7L633.1 344.9" fill="none" stroke="#414a53" stroke-width="0.8" stroke-linecap="round" stroke-linejoin="round" />
<ellipse cx="241.2" cy="188.8" rx="5.6" ry="2.6" transform="rotate(0 241.2 188.8)" fill="none" stroke="#101214" stroke-width="2.3"/>
<ellipse cx="241.2" cy="236.2" rx="5.6" ry="2.6" transform="rotate(0 241.2 236.2)" fill="none" stroke="#101214" stroke-width="2.3"/>
<ellipse cx="241.2" cy="283.6" rx="5.6" ry="2.6" transform="rotate(0 241.2 283.6)" fill="none" stroke="#101214" stroke-width="2.3"/>
<ellipse cx="241.2" cy="331" rx="5.6" ry="2.6" transform="rotate(0 241.2 331)" fill="none" stroke="#101214" stroke-width="2.3"/>
<ellipse cx="241.2" cy="378.4" rx="5.6" ry="2.6" transform="rotate(0 241.2 378.4)" fill="none" stroke="#101214" stroke-width="2.3"/>
<ellipse cx="362.4" cy="130.9" rx="7.4" ry="3" transform="rotate(0 362.4 130.9)" fill="none" stroke="#101214" stroke-width="2.5"/>
<ellipse cx="362.4" cy="178.3" rx="7.4" ry="3" transform="rotate(0 362.4 178.3)" fill="none" stroke="#101214" stroke-width="2.5"/>
<ellipse cx="362.4" cy="225.7" rx="7.4" ry="3" transform="rotate(0 362.4 225.7)" fill="none" stroke="#101214" stroke-width="2.5"/>
<ellipse cx="362.4" cy="273.1" rx="7.4" ry="3" transform="rotate(0 362.4 273.1)" fill="none" stroke="#101214" stroke-width="2.5"/>
<ellipse cx="362.4" cy="320.5" rx="7.4" ry="3" transform="rotate(0 362.4 320.5)" fill="none" stroke="#101214" stroke-width="2.5"/>
<ellipse cx="634.6" cy="384" rx="6.4" ry="2.8" transform="rotate(0 634.6 384)" fill="none" stroke="#101214" stroke-width="2.5"/>
<ellipse cx="634.6" cy="431.4" rx="6.4" ry="2.8" transform="rotate(0 634.6 431.4)" fill="none" stroke="#101214" stroke-width="2.5"/>
<ellipse cx="634.6" cy="478.8" rx="6.4" ry="2.8" transform="rotate(0 634.6 478.8)" fill="none" stroke="#101214" stroke-width="2.5"/>
<ellipse cx="634.6" cy="526.2" rx="6.4" ry="2.8" transform="rotate(0 634.6 526.2)" fill="none" stroke="#101214" stroke-width="2.5"/>
<ellipse cx="634.6" cy="573.6" rx="6.4" ry="2.8" transform="rotate(0 634.6 573.6)" fill="none" stroke="#101214" stroke-width="2.5"/>
<ellipse cx="755.7" cy="325.5" rx="4.2" ry="3.2" transform="rotate(0 755.7 325.5)" fill="none" stroke="#101214" stroke-width="2.2"/>
<ellipse cx="755.7" cy="372.9" rx="4.2" ry="3.2" transform="rotate(0 755.7 372.9)" fill="none" stroke="#101214" stroke-width="2.2"/>
<ellipse cx="755.7" cy="420.3" rx="4.2" ry="3.2" transform="rotate(0 755.7 420.3)" fill="none" stroke="#101214" stroke-width="2.2"/>
<ellipse cx="755.7" cy="467.7" rx="4.2" ry="3.2" transform="rotate(0 755.7 467.7)" fill="none" stroke="#101214" stroke-width="2.2"/>
<ellipse cx="755.7" cy="515.1" rx="4.2" ry="3.2" transform="rotate(0 755.7 515.1)" fill="none" stroke="#101214" stroke-width="2.2"/>
<ellipse cx="268.4" cy="400.8" rx="3.6" ry="4.6" transform="rotate(-25 268.4 400.8)" fill="none" stroke="#101214" stroke-width="2.2"/>
<ellipse cx="386.4" cy="339.6" rx="3.4" ry="4.2" transform="rotate(-25 386.4 339.6)" fill="none" stroke="#101214" stroke-width="2"/>
<ellipse cx="307.5" cy="420.3" rx="3.6" ry="4.6" transform="rotate(-25 307.5 420.3)" fill="none" stroke="#101214" stroke-width="2.2"/>
<ellipse cx="425.5" cy="359.1" rx="3.4" ry="4.2" transform="rotate(-25 425.5 359.1)" fill="none" stroke="#101214" stroke-width="2"/>
<ellipse cx="346.5" cy="439.8" rx="3.6" ry="4.6" transform="rotate(-25 346.5 439.8)" fill="none" stroke="#101214" stroke-width="2.2"/>
<ellipse cx="464.5" cy="378.6" rx="3.4" ry="4.2" transform="rotate(-25 464.5 378.6)" fill="none" stroke="#101214" stroke-width="2"/>
<ellipse cx="385.6" cy="459.3" rx="3.6" ry="4.6" transform="rotate(-25 385.6 459.3)" fill="none" stroke="#101214" stroke-width="2.2"/>
<ellipse cx="503.6" cy="398.1" rx="3.4" ry="4.2" transform="rotate(-25 503.6 398.1)" fill="none" stroke="#101214" stroke-width="2"/>
<ellipse cx="424.6" cy="478.9" rx="3.6" ry="4.6" transform="rotate(-25 424.6 478.9)" fill="none" stroke="#101214" stroke-width="2.2"/>
<ellipse cx="542.6" cy="417.7" rx="3.4" ry="4.2" transform="rotate(-25 542.6 417.7)" fill="none" stroke="#101214" stroke-width="2"/>
<ellipse cx="463.6" cy="498.4" rx="3.6" ry="4.6" transform="rotate(-25 463.6 498.4)" fill="none" stroke="#101214" stroke-width="2.2"/>
<ellipse cx="581.6" cy="437.2" rx="3.4" ry="4.2" transform="rotate(-25 581.6 437.2)" fill="none" stroke="#101214" stroke-width="2"/>
<ellipse cx="502.7" cy="517.9" rx="3.6" ry="4.6" transform="rotate(-25 502.7 517.9)" fill="none" stroke="#101214" stroke-width="2.2"/>
<ellipse cx="620.7" cy="456.7" rx="3.4" ry="4.2" transform="rotate(-25 620.7 456.7)" fill="none" stroke="#101214" stroke-width="2"/>
<ellipse cx="541.7" cy="537.4" rx="3.6" ry="4.6" transform="rotate(-25 541.7 537.4)" fill="none" stroke="#101214" stroke-width="2.2"/>
<ellipse cx="659.7" cy="476.2" rx="3.4" ry="4.2" transform="rotate(-25 659.7 476.2)" fill="none" stroke="#101214" stroke-width="2"/>
<ellipse cx="580.8" cy="556.9" rx="3.6" ry="4.6" transform="rotate(-25 580.8 556.9)" fill="none" stroke="#101214" stroke-width="2.2"/>
<ellipse cx="698.8" cy="495.7" rx="3.4" ry="4.2" transform="rotate(-25 698.8 495.7)" fill="none" stroke="#101214" stroke-width="2"/>
<ellipse cx="619.8" cy="576.5" rx="3.6" ry="4.6" transform="rotate(-25 619.8 576.5)" fill="none" stroke="#101214" stroke-width="2.2"/>
<ellipse cx="737.8" cy="515.3" rx="3.4" ry="4.2" transform="rotate(-25 737.8 515.3)" fill="none" stroke="#101214" stroke-width="2"/>
<ellipse cx="271" cy="372.6" rx="3.4" ry="4.2" transform="rotate(25 271 372.6)" fill="none" stroke="#101214" stroke-width="2"/>
<ellipse cx="666.4" cy="567.8" rx="3.4" ry="4.2" transform="rotate(25 666.4 567.8)" fill="none" stroke="#101214" stroke-width="2"/>
<ellipse cx="310" cy="353.1" rx="3.4" ry="4.2" transform="rotate(25 310 353.1)" fill="none" stroke="#101214" stroke-width="2"/>
<ellipse cx="705.4" cy="548.3" rx="3.4" ry="4.2" transform="rotate(25 705.4 548.3)" fill="none" stroke="#101214" stroke-width="2"/>
</g>
<g>
<path d="M1499 1815C1494 1817 1493 1811 1497.5 1810.5L1598.5 1686.5C1601 1683 1604.5 1684.5 1603 1688.5L1596 1701" fill="none" stroke="#2b2b2b" stroke-width="2.8" stroke-linecap="round" stroke-linejoin="round" />
<path d="M1499 1815C1494 1817 1493 1811 1497.5 1810.5L1598.5 1686.5C1601 1683 1604.5 1684.5 1603 1688.5L1596 1701" fill="none" stroke="#cfcfcf" stroke-width="1.5" stroke-linecap="round" stroke-linejoin="round" />
<path d="M1603.5 1691C1614 1702 1620 1722 1621.2 1738L1624.6 1736.2L1622.2 1751L1615 1738.6L1618.2 1738.4C1616.5 1722 1611 1703 1603.5 1691Z" fill="#8e1b1b" stroke="#4a0c0c" stroke-width="0.6" stroke-linejoin="round" />
<path d="M1557.6 1722.3a48 48 0 1 0 96 0a48 48 0 1 0 -96 0" fill="none" stroke="#2a2a2a" stroke-width="1" stroke-dasharray="8 2.2 1.6 2.2"/>
<path d="M1640 1688.5L1711 1621.5" fill="none" stroke="#2a2a2a" stroke-width="1" stroke-dasharray="8 2.2 1.6 2.2"/>
<clipPath id="cp3"><circle cx="1780.8" cy="1555.3" r="96.8"/></clipPath>
<circle cx="1780.8" cy="1555.3" r="96.8" fill="#fff"/>
<g clip-path="url(#cp3)">
<path d="M1714.3 1448.9L1714.3 1661.7" stroke="#16232e" stroke-width="6" stroke-linecap="butt" fill="none"/>
<path d="M1714.3 1448.9L1714.3 1661.7" stroke="#7590a6" stroke-width="4" stroke-linecap="butt" fill="none"/>
<path d="M1752 1448.9L1752 1661.7" stroke="#16232e" stroke-width="6" stroke-linecap="butt" fill="none"/>
<path d="M1752 1448.9L1752 1661.7" stroke="#7590a6" stroke-width="4" stroke-linecap="butt" fill="none"/>
<path d="M1790.4 1448.9L1790.4 1661.7" stroke="#16232e" stroke-width="6" stroke-linecap="butt" fill="none"/>
<path d="M1790.4 1448.9L1790.4 1661.7" stroke="#7590a6" stroke-width="4" stroke-linecap="butt" fill="none"/>
<path d="M1829.6 1448.9L1829.6 1661.7" stroke="#16232e" stroke-width="6" stroke-linecap="butt" fill="none"/>
<path d="M1829.6 1448.9L1829.6 1661.7" stroke="#7590a6" stroke-width="4" stroke-linecap="butt" fill="none"/>
<path d="M1868 1448.9L1868 1661.7" stroke="#16232e" stroke-width="6" stroke-linecap="butt" fill="none"/>
<path d="M1868 1448.9L1868 1661.7" stroke="#7590a6" stroke-width="4" stroke-linecap="butt" fill="none"/>
<path d="M1675.9 1382.4L1891.7 1490.2" stroke="#16232e" stroke-width="6" stroke-linecap="butt" fill="none"/>
<path d="M1675.9 1382.4L1891.7 1490.2" stroke="#7590a6" stroke-width="4" stroke-linecap="butt" fill="none"/>
<path d="M1675.9 1420.8L1891.7 1528.7" stroke="#16232e" stroke-width="6" stroke-linecap="butt" fill="none"/>
<path d="M1675.9 1420.8L1891.7 1528.7" stroke="#7590a6" stroke-width="4" stroke-linecap="butt" fill="none"/>
<path d="M1675.9 1459.2L1891.7 1567.1" stroke="#16232e" stroke-width="6" stroke-linecap="butt" fill="none"/>
<path d="M1675.9 1459.2L1891.7 1567.1" stroke="#7590a6" stroke-width="4" stroke-linecap="butt" fill="none"/>
<path d="M1675.9 1497.6L1891.7 1605.5" stroke="#16232e" stroke-width="6" stroke-linecap="butt" fill="none"/>
<path d="M1675.9 1497.6L1891.7 1605.5" stroke="#7590a6" stroke-width="4" stroke-linecap="butt" fill="none"/>
<path d="M1675.9 1536.1L1891.7 1643.9" stroke="#16232e" stroke-width="6" stroke-linecap="butt" fill="none"/>
<path d="M1675.9 1536.1L1891.7 1643.9" stroke="#7590a6" stroke-width="4" stroke-linecap="butt" fill="none"/>
<path d="M1675.9 1574.5L1891.7 1682.4" stroke="#16232e" stroke-width="6" stroke-linecap="butt" fill="none"/>
<path d="M1675.9 1574.5L1891.7 1682.4" stroke="#7590a6" stroke-width="4" stroke-linecap="butt" fill="none"/>
<path d="M1675.9 1612.9L1891.7 1720.8" stroke="#16232e" stroke-width="6" stroke-linecap="butt" fill="none"/>
<path d="M1675.9 1612.9L1891.7 1720.8" stroke="#7590a6" stroke-width="4" stroke-linecap="butt" fill="none"/>
<path d="M1788.2 1556.7L1885.8 1508" stroke="#16232e" stroke-width="6" stroke-linecap="butt" fill="none"/>
<path d="M1788.2 1556.7L1885.8 1508" stroke="#a9c4da" stroke-width="4" stroke-linecap="butt" fill="none"/>
<path d="M1788.2 1601.8L1885.8 1553" stroke="#16232e" stroke-width="6" stroke-linecap="butt" fill="none"/>
<path d="M1788.2 1601.8L1885.8 1553" stroke="#a9c4da" stroke-width="4" stroke-linecap="butt" fill="none"/>
<path d="M1788.2 1646.9L1885.8 1598.1" stroke="#16232e" stroke-width="6" stroke-linecap="butt" fill="none"/>
<path d="M1788.2 1646.9L1885.8 1598.1" stroke="#a9c4da" stroke-width="4" stroke-linecap="butt" fill="none"/>
<path d="M1829.6 1536.1L1829.6 1661.7" stroke="#16232e" stroke-width="6" stroke-linecap="butt" fill="none"/>
<path d="M1829.6 1536.1L1829.6 1661.7" stroke="#7590a6" stroke-width="4" stroke-linecap="butt" fill="none"/>
<path d="M1868 1516.8L1868 1661.7" stroke="#16232e" stroke-width="6" stroke-linecap="butt" fill="none"/>
<path d="M1868 1516.8L1868 1661.7" stroke="#7590a6" stroke-width="4" stroke-linecap="butt" fill="none"/>
<path d="M1675.9 1502.1L1780.1 1556.7" stroke="#16232e" stroke-width="6" stroke-linecap="butt" fill="none"/>
<path d="M1675.9 1502.1L1780.1 1556.7" stroke="#7590a6" stroke-width="4" stroke-linecap="butt" fill="none"/>
<path d="M1675.9 1543.4L1780.1 1598.1" stroke="#16232e" stroke-width="6" stroke-linecap="butt" fill="none"/>
<path d="M1675.9 1543.4L1780.1 1598.1" stroke="#7590a6" stroke-width="4" stroke-linecap="butt" fill="none"/>
<path d="M1675.9 1584.8L1780.1 1639.5" stroke="#16232e" stroke-width="6" stroke-linecap="butt" fill="none"/>
<path d="M1675.9 1584.8L1780.1 1639.5" stroke="#7590a6" stroke-width="4" stroke-linecap="butt" fill="none"/>
<path d="M1675.9 1626.2L1780.1 1680.9" stroke="#16232e" stroke-width="6" stroke-linecap="butt" fill="none"/>
<path d="M1675.9 1626.2L1780.1 1680.9" stroke="#7590a6" stroke-width="4" stroke-linecap="butt" fill="none"/>
<path d="M1698.1 1516.8L1698.1 1661.7" stroke="#16232e" stroke-width="6" stroke-linecap="butt" fill="none"/>
<path d="M1698.1 1516.8L1698.1 1661.7" stroke="#7590a6" stroke-width="4" stroke-linecap="butt" fill="none"/>
<path d="M1736.5 1536.8L1736.5 1661.7" stroke="#16232e" stroke-width="6" stroke-linecap="butt" fill="none"/>
<path d="M1736.5 1536.8L1736.5 1661.7" stroke="#7590a6" stroke-width="4" stroke-linecap="butt" fill="none"/>
<path d="M1775.7 1556.7L1775.7 1661.7" stroke="#16232e" stroke-width="6" stroke-linecap="butt" fill="none"/>
<path d="M1775.7 1556.7L1775.7 1661.7" stroke="#7590a6" stroke-width="4" stroke-linecap="butt" fill="none"/>
<path d="M1790.4 1556.7L1790.4 1661.7" stroke="#16232e" stroke-width="6" stroke-linecap="butt" fill="none"/>
<path d="M1790.4 1556.7L1790.4 1661.7" stroke="#7590a6" stroke-width="4" stroke-linecap="butt" fill="none"/>
<path d="M1683.3 1577.4L1762.4 1484.3C1768.3 1476.9 1777.9 1479.2 1774.2 1490.2L1757.2 1513.9" fill="none" stroke="#2b2b2b" stroke-width="5.2" stroke-linecap="round" stroke-linejoin="round" />
<path d="M1683.3 1577.4L1762.4 1484.3C1768.3 1476.9 1777.9 1479.2 1774.2 1490.2L1757.2 1513.9" fill="none" stroke="#e4e4e4" stroke-width="3.2" stroke-linecap="round" stroke-linejoin="round" />
<path d="M1777.1 1491.7C1795.6 1502.1 1811.9 1543.4 1815.6 1585.6L1820 1584.1L1814.1 1610.7L1805.2 1579.6L1811.1 1584.5C1807.4 1546.4 1794.4 1508.3 1777.1 1491.7Z" fill="#8e1b1b" stroke="#4a0c0c" stroke-width="0.8" stroke-linejoin="round" />
<path d="M1769 1635.1C1772 1630.6 1788.2 1630.6 1797.1 1633.6L1786.7 1641.7C1779.4 1643.2 1767.5 1641 1769 1635.1Z" fill="none" stroke="#2b2b2b" stroke-width="4.4" stroke-linecap="round" stroke-linejoin="round" />
<path d="M1769 1635.1C1772 1630.6 1788.2 1630.6 1797.1 1633.6L1786.7 1641.7C1779.4 1643.2 1767.5 1641 1769 1635.1Z" fill="none" stroke="#dcdcdc" stroke-width="2.6" stroke-linecap="round" stroke-linejoin="round" />
</g>
<circle cx="1780.8" cy="1555.3" r="96.8" fill="none" stroke="#222" stroke-width="1.1"/>
</g>
<g transform="translate(0,2066.4)">
<path d="M168.7 403.3L311.5 331.1M192.2 415L335 342.8M215.7 426.7L358.5 354.6M239.2 438.5L382 366.3M262.7 450.2L405.5 378M286.2 461.9L429 389.7M309.7 473.6L452.5 401.4M333.2 485.3L476 413.2M356.7 497.1L499.5 424.9M380.2 508.8L523 436.6M403.7 520.5L546.5 448.3M427.2 532.2L570 460M450.7 543.9L593.5 471.8M474.2 555.7L617 483.5M497.7 567.4L640.5 495.2M521.2 579.1L664 506.9M544.7 590.8L687.5 518.6M568.2 602.5L711 530.4M591.7 614.3L734.5 542.1M615.2 626L758 553.8M638.7 637.7L781.5 565.5M168.7 402.1L641.1 637.7M192.1 390.3L664.5 625.9M215.5 378.5L687.9 614M238.9 366.6L711.3 602.2M262.3 354.8L734.7 590.4M285.7 343L758.1 578.5M309.1 331.1L781.5 566.7M319.1 334.6L319.1 47.2M342.4 346.2L342.4 58.9M365.7 357.9L365.7 70.5M389.1 369.5L389.1 82.1M412.4 381.1L412.4 93.8M435.7 392.8L435.7 105.4M459 404.4L459 117M482.4 416L482.4 128.7M505.7 427.7L505.7 140.3M529 439.3L529 151.9M552.3 450.9L552.3 163.6M575.7 462.5L575.7 175.2M599 474.2L599 186.8M622.3 485.8L622.3 198.5M645.6 497.4L645.6 210.1M669 509.1L669 221.7M692.3 520.7L692.3 233.4M715.6 532.3L715.6 245M738.9 544L738.9 256.6M762.3 555.6L762.3 268.3M785.6 567.2L785.6 279.9M317.9 332.6L786.7 566.4M317.9 304.1L786.7 537.9M317.9 275.7L786.7 509.5M317.9 247.2L786.7 481M317.9 218.8L786.7 452.6M317.9 190.3L786.7 424.1M317.9 161.9L786.7 395.7M317.9 133.4L786.7 367.2M317.9 105L786.7 338.8M317.9 76.5L786.7 310.3M317.9 48.1L786.7 281.9M169.9 404.1L169.9 116.8M193.3 392.3L193.3 104.9M216.7 380.5L216.7 93.1M240.1 368.6L240.1 81.3M263.5 356.8L263.5 69.5M286.9 345L286.9 57.6M310.3 333.1L310.3 45.8M168.7 403.3L311.5 331.1M168.7 374.8L311.5 302.7M168.7 346.4L311.5 274.2M168.7 317.9L311.5 245.8M168.7 289.5L311.5 217.3M168.7 261L311.5 188.9M168.7 232.6L311.5 160.4M168.7 204.1L311.5 132M168.7 175.7L311.5 103.5M168.7 147.2L311.5 75.1M168.7 118.8L311.5 46.6M646 638.5L646 351.2M669.4 626.7L669.4 339.3M692.8 614.8L692.8 327.5M716.2 603L716.2 315.7M739.6 591.2L739.6 303.8M763 579.4L763 292M786.4 567.5L786.4 280.2M644.8 637.7L787.6 565.5M644.8 609.2L787.6 537.1M644.8 580.8L787.6 508.6M644.8 552.3L787.6 480.2M644.8 523.9L787.6 451.7M644.8 495.4L787.6 423.3M644.8 467L787.6 394.8M644.8 438.5L787.6 366.4M644.8 410.1L787.6 337.9M644.8 381.6L787.6 309.5M644.8 353.2L787.6 281M169.9 404.1L169.9 116.8M193.4 415.8L193.4 128.5M216.9 427.6L216.9 140.2M240.4 439.3L240.4 151.9M263.9 451L263.9 163.7M287.4 462.7L287.4 175.4M310.9 474.4L310.9 187.1M334.4 486.2L334.4 198.8M357.9 497.9L357.9 210.5M381.4 509.6L381.4 222.3M404.9 521.3L404.9 234M428.4 533L428.4 245.7M451.9 544.8L451.9 257.4M475.4 556.5L475.4 269.1M498.9 568.2L498.9 280.9M522.4 579.9L522.4 292.6M545.9 591.6L545.9 304.3M569.4 603.4L569.4 316M592.9 615.1L592.9 327.7M616.4 626.8L616.4 339.5M639.9 638.5L639.9 351.2M168.7 402.1L641.1 637.7M168.7 373.7L641.1 609.2M168.7 345.2L641.1 580.8M168.7 316.8L641.1 552.3M168.7 288.3L641.1 523.9M168.7 259.9L641.1 495.4M168.7 231.4L641.1 467M168.7 203L641.1 438.5M168.7 174.5L641.1 410.1M168.7 146.1L641.1 381.6M168.7 117.6L641.1 353.2" fill="none" stroke="#1a1e22" stroke-width="3.4" stroke-linecap="round" stroke-linejoin="round" />
<path d="M168.7 403.3L311.5 331.1M192.2 415L335 342.8M215.7 426.7L358.5 354.6M239.2 438.5L382 366.3M262.7 450.2L405.5 378M286.2 461.9L429 389.7M309.7 473.6L452.5 401.4M333.2 485.3L476 413.2M356.7 497.1L499.5 424.9M380.2 508.8L523 436.6M403.7 520.5L546.5 448.3M427.2 532.2L570 460M450.7 543.9L593.5 471.8M474.2 555.7L617 483.5M497.7 567.4L640.5 495.2M521.2 579.1L664 506.9M544.7 590.8L687.5 518.6M568.2 602.5L711 530.4M591.7 614.3L734.5 542.1M615.2 626L758 553.8M638.7 637.7L781.5 565.5M168.7 402.1L641.1 637.7M192.1 390.3L664.5 625.9M215.5 378.5L687.9 614M238.9 366.6L711.3 602.2M262.3 354.8L734.7 590.4M285.7 343L758.1 578.5M309.1 331.1L781.5 566.7M319.1 334.6L319.1 47.2M342.4 346.2L342.4 58.9M365.7 357.9L365.7 70.5M389.1 369.5L389.1 82.1M412.4 381.1L412.4 93.8M435.7 392.8L435.7 105.4M459 404.4L459 117M482.4 416L482.4 128.7M505.7 427.7L505.7 140.3M529 439.3L529 151.9M552.3 450.9L552.3 163.6M575.7 462.5L575.7 175.2M599 474.2L599 186.8M622.3 485.8L622.3 198.5M645.6 497.4L645.6 210.1M669 509.1L669 221.7M692.3 520.7L692.3 233.4M715.6 532.3L715.6 245M738.9 544L738.9 256.6M762.3 555.6L762.3 268.3M785.6 567.2L785.6 279.9M317.9 332.6L786.7 566.4M317.9 304.1L786.7 537.9M317.9 275.7L786.7 509.5M317.9 247.2L786.7 481M317.9 218.8L786.7 452.6M317.9 190.3L786.7 424.1M317.9 161.9L786.7 395.7M317.9 133.4L786.7 367.2M317.9 105L786.7 338.8M317.9 76.5L786.7 310.3M317.9 48.1L786.7 281.9M169.9 404.1L169.9 116.8M193.3 392.3L193.3 104.9M216.7 380.5L216.7 93.1M240.1 368.6L240.1 81.3M263.5 356.8L263.5 69.5M286.9 345L286.9 57.6M310.3 333.1L310.3 45.8M168.7 403.3L311.5 331.1M168.7 374.8L311.5 302.7M168.7 346.4L311.5 274.2M168.7 317.9L311.5 245.8M168.7 289.5L311.5 217.3M168.7 261L311.5 188.9M168.7 232.6L311.5 160.4M168.7 204.1L311.5 132M168.7 175.7L311.5 103.5M168.7 147.2L311.5 75.1M168.7 118.8L311.5 46.6M646 638.5L646 351.2M669.4 626.7L669.4 339.3M692.8 614.8L692.8 327.5M716.2 603L716.2 315.7M739.6 591.2L739.6 303.8M763 579.4L763 292M786.4 567.5L786.4 280.2M644.8 637.7L787.6 565.5M644.8 609.2L787.6 537.1M644.8 580.8L787.6 508.6M644.8 552.3L787.6 480.2M644.8 523.9L787.6 451.7M644.8 495.4L787.6 423.3M644.8 467L787.6 394.8M644.8 438.5L787.6 366.4M644.8 410.1L787.6 337.9M644.8 381.6L787.6 309.5M644.8 353.2L787.6 281M169.9 404.1L169.9 116.8M193.4 415.8L193.4 128.5M216.9 427.6L216.9 140.2M240.4 439.3L240.4 151.9M263.9 451L263.9 163.7M287.4 462.7L287.4 175.4M310.9 474.4L310.9 187.1M334.4 486.2L334.4 198.8M357.9 497.9L357.9 210.5M381.4 509.6L381.4 222.3M404.9 521.3L404.9 234M428.4 533L428.4 245.7M451.9 544.8L451.9 257.4M475.4 556.5L475.4 269.1M498.9 568.2L498.9 280.9M522.4 579.9L522.4 292.6M545.9 591.6L545.9 304.3M569.4 603.4L569.4 316M592.9 615.1L592.9 327.7M616.4 626.8L616.4 339.5M639.9 638.5L639.9 351.2M168.7 402.1L641.1 637.7M168.7 373.7L641.1 609.2M168.7 345.2L641.1 580.8M168.7 316.8L641.1 552.3M168.7 288.3L641.1 523.9M168.7 259.9L641.1 495.4M168.7 231.4L641.1 467M168.7 203L641.1 438.5M168.7 174.5L641.1 410.1M168.7 146.1L641.1 381.6M168.7 117.6L641.1 353.2" fill="none" stroke="#414a53" stroke-width="0.9" stroke-linecap="round" stroke-linejoin="round" />
<ellipse cx="169.3" cy="165.7" rx="6.7" ry="3.1" transform="rotate(0 169.3 165.7)" fill="none" stroke="#101214" stroke-width="2.8"/>
<ellipse cx="169.3" cy="222.6" rx="6.7" ry="3.1" transform="rotate(0 169.3 222.6)" fill="none" stroke="#101214" stroke-width="2.8"/>
<ellipse cx="169.3" cy="279.5" rx="6.7" ry="3.1" transform="rotate(0 169.3 279.5)" fill="none" stroke="#101214" stroke-width="2.8"/>
<ellipse cx="169.3" cy="336.4" rx="6.7" ry="3.1" transform="rotate(0 169.3 336.4)" fill="none" stroke="#101214" stroke-width="2.8"/>
<ellipse cx="169.3" cy="393.3" rx="6.7" ry="3.1" transform="rotate(0 169.3 393.3)" fill="none" stroke="#101214" stroke-width="2.8"/>
<ellipse cx="314.7" cy="95.5" rx="8.9" ry="3.6" transform="rotate(0 314.7 95.5)" fill="none" stroke="#101214" stroke-width="3"/>
<ellipse cx="314.7" cy="152.4" rx="8.9" ry="3.6" transform="rotate(0 314.7 152.4)" fill="none" stroke="#101214" stroke-width="3"/>
<ellipse cx="314.7" cy="209.3" rx="8.9" ry="3.6" transform="rotate(0 314.7 209.3)" fill="none" stroke="#101214" stroke-width="3"/>
<ellipse cx="314.7" cy="266.2" rx="8.9" ry="3.6" transform="rotate(0 314.7 266.2)" fill="none" stroke="#101214" stroke-width="3"/>
<ellipse cx="314.7" cy="323.1" rx="8.9" ry="3.6" transform="rotate(0 314.7 323.1)" fill="none" stroke="#101214" stroke-width="3"/>
<ellipse cx="642.9" cy="400.1" rx="7.7" ry="3.4" transform="rotate(0 642.9 400.1)" fill="none" stroke="#101214" stroke-width="3"/>
<ellipse cx="642.9" cy="457" rx="7.7" ry="3.4" transform="rotate(0 642.9 457)" fill="none" stroke="#101214" stroke-width="3"/>
<ellipse cx="642.9" cy="513.9" rx="7.7" ry="3.4" transform="rotate(0 642.9 513.9)" fill="none" stroke="#101214" stroke-width="3"/>
<ellipse cx="642.9" cy="570.8" rx="7.7" ry="3.4" transform="rotate(0 642.9 570.8)" fill="none" stroke="#101214" stroke-width="3"/>
<ellipse cx="642.9" cy="627.7" rx="7.7" ry="3.4" transform="rotate(0 642.9 627.7)" fill="none" stroke="#101214" stroke-width="3"/>
<ellipse cx="788.2" cy="329.1" rx="5" ry="3.8" transform="rotate(0 788.2 329.1)" fill="none" stroke="#101214" stroke-width="2.6"/>
<ellipse cx="788.2" cy="386" rx="5" ry="3.8" transform="rotate(0 788.2 386)" fill="none" stroke="#101214" stroke-width="2.6"/>
<ellipse cx="788.2" cy="442.9" rx="5" ry="3.8" transform="rotate(0 788.2 442.9)" fill="none" stroke="#101214" stroke-width="2.6"/>
<ellipse cx="788.2" cy="499.8" rx="5" ry="3.8" transform="rotate(0 788.2 499.8)" fill="none" stroke="#101214" stroke-width="2.6"/>
<ellipse cx="788.2" cy="556.7" rx="5" ry="3.8" transform="rotate(0 788.2 556.7)" fill="none" stroke="#101214" stroke-width="2.6"/>
<ellipse cx="202.1" cy="420.2" rx="4.3" ry="5.5" transform="rotate(-25 202.1 420.2)" fill="none" stroke="#101214" stroke-width="2.6"/>
<ellipse cx="343.7" cy="346" rx="4.1" ry="5" transform="rotate(-25 343.7 346)" fill="none" stroke="#101214" stroke-width="2.4"/>
<ellipse cx="249.1" cy="443.6" rx="4.3" ry="5.5" transform="rotate(-25 249.1 443.6)" fill="none" stroke="#101214" stroke-width="2.6"/>
<ellipse cx="390.7" cy="369.4" rx="4.1" ry="5" transform="rotate(-25 390.7 369.4)" fill="none" stroke="#101214" stroke-width="2.4"/>
<ellipse cx="296.1" cy="467.1" rx="4.3" ry="5.5" transform="rotate(-25 296.1 467.1)" fill="none" stroke="#101214" stroke-width="2.6"/>
<ellipse cx="437.7" cy="392.9" rx="4.1" ry="5" transform="rotate(-25 437.7 392.9)" fill="none" stroke="#101214" stroke-width="2.4"/>
<ellipse cx="343.1" cy="490.5" rx="4.3" ry="5.5" transform="rotate(-25 343.1 490.5)" fill="none" stroke="#101214" stroke-width="2.6"/>
<ellipse cx="484.7" cy="416.3" rx="4.1" ry="5" transform="rotate(-25 484.7 416.3)" fill="none" stroke="#101214" stroke-width="2.4"/>
<ellipse cx="390.1" cy="514" rx="4.3" ry="5.5" transform="rotate(-25 390.1 514)" fill="none" stroke="#101214" stroke-width="2.6"/>
<ellipse cx="531.7" cy="439.7" rx="4.1" ry="5" transform="rotate(-25 531.7 439.7)" fill="none" stroke="#101214" stroke-width="2.4"/>
<ellipse cx="437.1" cy="537.4" rx="4.3" ry="5.5" transform="rotate(-25 437.1 537.4)" fill="none" stroke="#101214" stroke-width="2.6"/>
<ellipse cx="578.7" cy="463.2" rx="4.1" ry="5" transform="rotate(-25 578.7 463.2)" fill="none" stroke="#101214" stroke-width="2.4"/>
<ellipse cx="484.1" cy="560.8" rx="4.3" ry="5.5" transform="rotate(-25 484.1 560.8)" fill="none" stroke="#101214" stroke-width="2.6"/>
<ellipse cx="625.7" cy="486.6" rx="4.1" ry="5" transform="rotate(-25 625.7 486.6)" fill="none" stroke="#101214" stroke-width="2.4"/>
<ellipse cx="531.1" cy="584.3" rx="4.3" ry="5.5" transform="rotate(-25 531.1 584.3)" fill="none" stroke="#101214" stroke-width="2.6"/>
<ellipse cx="672.7" cy="510.1" rx="4.1" ry="5" transform="rotate(-25 672.7 510.1)" fill="none" stroke="#101214" stroke-width="2.4"/>
<ellipse cx="578.1" cy="607.7" rx="4.3" ry="5.5" transform="rotate(-25 578.1 607.7)" fill="none" stroke="#101214" stroke-width="2.6"/>
<ellipse cx="719.7" cy="533.5" rx="4.1" ry="5" transform="rotate(-25 719.7 533.5)" fill="none" stroke="#101214" stroke-width="2.4"/>
<ellipse cx="625.1" cy="631.2" rx="4.3" ry="5.5" transform="rotate(-25 625.1 631.2)" fill="none" stroke="#101214" stroke-width="2.6"/>
<ellipse cx="766.7" cy="556.9" rx="4.1" ry="5" transform="rotate(-25 766.7 556.9)" fill="none" stroke="#101214" stroke-width="2.4"/>
<ellipse cx="205" cy="386.2" rx="4.1" ry="5" transform="rotate(25 205 386.2)" fill="none" stroke="#101214" stroke-width="2.4"/>
<ellipse cx="681.1" cy="620.5" rx="4.1" ry="5" transform="rotate(25 681.1 620.5)" fill="none" stroke="#101214" stroke-width="2.4"/>
<ellipse cx="251.8" cy="362.5" rx="4.1" ry="5" transform="rotate(25 251.8 362.5)" fill="none" stroke="#101214" stroke-width="2.4"/>
<ellipse cx="727.9" cy="596.9" rx="4.1" ry="5" transform="rotate(25 727.9 596.9)" fill="none" stroke="#101214" stroke-width="2.4"/>
<path d="M297.5 248.4C290.9 250.5 288.5 244.5 294.5 244.5L447.7 167C452 163.7 453.2 170.9 445.3 177.8L440.5 180.2" fill="none" stroke="#2b2b2b" stroke-width="2.9" stroke-linecap="round" stroke-linejoin="round" />
<path d="M297.5 248.4C290.9 250.5 288.5 244.5 294.5 244.5L447.7 167C452 163.7 453.2 170.9 445.3 177.8L440.5 180.2" fill="none" stroke="#c9c9c9" stroke-width="1.6" stroke-linecap="round" stroke-linejoin="round" />
<path d="M297.5 360.7C290.9 362.9 288.5 356.9 294.5 356.9L447.7 279.4C452 276.1 453.2 283.3 445.3 290.2L440.5 292.6" fill="none" stroke="#2b2b2b" stroke-width="2.9" stroke-linecap="round" stroke-linejoin="round" />
<path d="M297.5 360.7C290.9 362.9 288.5 356.9 294.5 356.9L447.7 279.4C452 276.1 453.2 283.3 445.3 290.2L440.5 292.6" fill="none" stroke="#c9c9c9" stroke-width="1.6" stroke-linecap="round" stroke-linejoin="round" />
<path d="M506.6 352.7C500 354.8 497.6 348.8 503.6 348.8L656.9 271.3C661.2 268 662.4 275.2 654.5 282.1L649.7 284.5" fill="none" stroke="#2b2b2b" stroke-width="2.9" stroke-linecap="round" stroke-linejoin="round" />
<path d="M506.6 352.7C500 354.8 497.6 348.8 503.6 348.8L656.9 271.3C661.2 268 662.4 275.2 654.5 282.1L649.7 284.5" fill="none" stroke="#c9c9c9" stroke-width="1.6" stroke-linecap="round" stroke-linejoin="round" />
<path d="M506.6 465.1C500 467.2 497.6 461.2 503.6 461.2L656.9 383.7C661.2 380.4 662.4 387.6 654.5 394.5L649.7 396.9" fill="none" stroke="#2b2b2b" stroke-width="2.9" stroke-linecap="round" stroke-linejoin="round" />
<path d="M506.6 465.1C500 467.2 497.6 461.2 503.6 461.2L656.9 383.7C661.2 380.4 662.4 387.6 654.5 394.5L649.7 396.9" fill="none" stroke="#c9c9c9" stroke-width="1.6" stroke-linecap="round" stroke-linejoin="round" />
<path d="M279.5 250L274 258.1L272.8 255.8L258.1 263.1L256.1 259.2L270.9 251.8L269.7 249.6Z" fill="#e8201f" stroke="#7a0c0c" stroke-width="0.7" stroke-linejoin="round"/>
<path d="M279.5 362.4L274 370.4L272.8 368.2L258.1 375.5L256.1 371.6L270.9 364.2L269.7 361.9Z" fill="#e8201f" stroke="#7a0c0c" stroke-width="0.7" stroke-linejoin="round"/>
<path d="M488.6 354.3L483.1 362.4L482 360.1L467.2 367.5L465.3 363.5L480 356.2L478.9 353.9Z" fill="#e8201f" stroke="#7a0c0c" stroke-width="0.7" stroke-linejoin="round"/>
<path d="M488.6 466.7L483.1 474.8L482 472.5L467.2 479.8L465.3 475.9L480 468.5L478.9 466.3Z" fill="#e8201f" stroke="#7a0c0c" stroke-width="0.7" stroke-linejoin="round"/>
</g>
<g transform="translate(973.5,2066.4)">
<path d="M138.6 471.4L242.3 382.4M167.4 479.7L271.1 390.6M196.2 487.9L299.9 398.8M225 496.1L328.7 407.1M253.8 504.4L357.5 415.3M282.6 512.6L386.3 423.6M311.4 520.9L415.1 431.8M340.2 529.1L443.9 440M369 537.3L472.7 448.3M397.8 545.6L501.5 456.5M426.6 553.8L530.3 464.8M455.4 562.1L559.1 473M484.2 570.3L587.9 481.2M513 578.5L616.7 489.5M541.8 586.8L645.5 497.7M570.6 595L674.3 506M599.4 603.3L703.1 514.2M628.2 611.5L731.9 522.4M657 619.7L760.7 530.7M685.8 628L789.5 538.9M714.6 636.2L818.3 547.2M138 470.3L716.8 635.9M155 455.7L733.8 621.3M172 441.1L750.8 606.7M189 426.5L767.8 592.1M206 411.9L784.8 577.5M223 397.3L801.8 562.9M240 382.7L818.8 548.3M243.1 383.1L243.1 90.2M271.9 391.3L271.9 98.4M300.7 399.6L300.7 106.7M329.5 407.8L329.5 114.9M358.3 416L358.3 123.1M387.1 424.3L387.1 131.4M415.9 432.5L415.9 139.6M444.7 440.8L444.7 147.9M473.5 449L473.5 156.1M502.3 457.2L502.3 164.3M531.1 465.5L531.1 172.6M559.9 473.7L559.9 180.8M588.7 482L588.7 189.1M617.5 490.2L617.5 197.3M646.3 498.4L646.3 205.5M675.1 506.7L675.1 213.8M703.9 514.9L703.9 222M732.7 523.2L732.7 230.3M761.5 531.4L761.5 238.5M790.3 539.6L790.3 246.7M819.1 547.9L819.1 255M241.7 381.2L820.5 546.9M241.7 352.2L820.5 517.9M241.7 323.2L820.5 488.9M241.7 294.2L820.5 459.9M241.7 265.2L820.5 430.9M241.7 236.2L820.5 401.9M241.7 207.2L820.5 372.9M241.7 178.2L820.5 343.9M241.7 149.2L820.5 314.9M241.7 120.2L820.5 285.9M241.7 91.2L820.5 256.9M139.4 472.1L139.4 179.2M156.4 457.5L156.4 164.6M173.4 442.9L173.4 150M190.4 428.3L190.4 135.4M207.4 413.7L207.4 120.8M224.4 399.1L224.4 106.2M241.4 384.5L241.4 91.6M138.6 471.4L242.3 382.4M138.6 442.4L242.3 353.4M138.6 413.4L242.3 324.4M138.6 384.4L242.3 295.4M138.6 355.4L242.3 266.4M138.6 326.4L242.3 237.4M138.6 297.4L242.3 208.4M138.6 268.4L242.3 179.4M138.6 239.4L242.3 150.4M138.6 210.4L242.3 121.4M138.6 181.4L242.3 92.4M716.8 637.4L716.8 344.5M733.8 622.8L733.8 329.9M750.8 608.2L750.8 315.3M767.8 593.6L767.8 300.7M784.8 579L784.8 286.1M801.8 564.4L801.8 271.5M818.8 549.8L818.8 256.9M716 636.6L819.7 547.6M716 607.6L819.7 518.6M716 578.6L819.7 489.6M716 549.6L819.7 460.6M716 520.6L819.7 431.6M716 491.6L819.7 402.6M716 462.6L819.7 373.6M716 433.6L819.7 344.6M716 404.6L819.7 315.6M716 375.6L819.7 286.6M716 346.6L819.7 257.6M139.4 472.1L139.4 179.2M168.2 480.4L168.2 187.5M197 488.6L197 195.7M225.8 496.9L225.8 204M254.6 505.1L254.6 212.2M283.4 513.3L283.4 220.4M312.2 521.6L312.2 228.7M341 529.8L341 236.9M369.8 538.1L369.8 245.2M398.6 546.3L398.6 253.4M427.4 554.5L427.4 261.6M456.2 562.8L456.2 269.9M485 571L485 278.1M513.8 579.3L513.8 286.4M542.6 587.5L542.6 294.6M571.4 595.7L571.4 302.8M600.2 604L600.2 311.1M629 612.2L629 319.3M657.8 620.5L657.8 327.6M686.6 628.7L686.6 335.8M715.4 636.9L715.4 344M138 470.3L716.8 635.9M138 441.3L716.8 606.9M138 412.3L716.8 577.9M138 383.3L716.8 548.9M138 354.3L716.8 519.9M138 325.3L716.8 490.9M138 296.3L716.8 461.9M138 267.3L716.8 432.9M138 238.3L716.8 403.9M138 209.3L716.8 374.9M138 180.3L716.8 345.9M138.6 179.9L242.3 90.9M167.4 188.2L271.1 99.1M196.2 196.4L299.9 107.3M225 204.6L328.7 115.6M253.8 212.9L357.5 123.8M282.6 221.1L386.3 132.1M311.4 229.4L415.1 140.3M340.2 237.6L443.9 148.5M369 245.8L472.7 156.8M397.8 254.1L501.5 165M426.6 262.3L530.3 173.3M455.4 270.6L559.1 181.5M484.2 278.8L587.9 189.7M513 287L616.7 198M541.8 295.3L645.5 206.2M570.6 303.5L674.3 214.5M599.4 311.8L703.1 222.7M628.2 320L731.9 230.9M657 328.2L760.7 239.2M685.8 336.5L789.5 247.4M714.6 344.7L818.3 255.7M138 178.8L716.8 344.4M155 164.2L733.8 329.8M172 149.6L750.8 315.2M189 135L767.8 300.6M206 120.4L784.8 286M223 105.8L801.8 271.4M240 91.2L818.8 256.8" fill="none" stroke="#21272d" stroke-width="3.7" stroke-linecap="round" stroke-linejoin="round" />
<path d="M138.6 471.4L242.3 382.4M167.4 479.7L271.1 390.6M196.2 487.9L299.9 398.8M225 496.1L328.7 407.1M253.8 504.4L357.5 415.3M282.6 512.6L386.3 423.6M311.4 520.9L415.1 431.8M340.2 529.1L443.9 440M369 537.3L472.7 448.3M397.8 545.6L501.5 456.5M426.6 553.8L530.3 464.8M455.4 562.1L559.1 473M484.2 570.3L587.9 481.2M513 578.5L616.7 489.5M541.8 586.8L645.5 497.7M570.6 595L674.3 506M599.4 603.3L703.1 514.2M628.2 611.5L731.9 522.4M657 619.7L760.7 530.7M685.8 628L789.5 538.9M714.6 636.2L818.3 547.2M138 470.3L716.8 635.9M155 455.7L733.8 621.3M172 441.1L750.8 606.7M189 426.5L767.8 592.1M206 411.9L784.8 577.5M223 397.3L801.8 562.9M240 382.7L818.8 548.3M243.1 383.1L243.1 90.2M271.9 391.3L271.9 98.4M300.7 399.6L300.7 106.7M329.5 407.8L329.5 114.9M358.3 416L358.3 123.1M387.1 424.3L387.1 131.4M415.9 432.5L415.9 139.6M444.7 440.8L444.7 147.9M473.5 449L473.5 156.1M502.3 457.2L502.3 164.3M531.1 465.5L531.1 172.6M559.9 473.7L559.9 180.8M588.7 482L588.7 189.1M617.5 490.2L617.5 197.3M646.3 498.4L646.3 205.5M675.1 506.7L675.1 213.8M703.9 514.9L703.9 222M732.7 523.2L732.7 230.3M761.5 531.4L761.5 238.5M790.3 539.6L790.3 246.7M819.1 547.9L819.1 255M241.7 381.2L820.5 546.9M241.7 352.2L820.5 517.9M241.7 323.2L820.5 488.9M241.7 294.2L820.5 459.9M241.7 265.2L820.5 430.9M241.7 236.2L820.5 401.9M241.7 207.2L820.5 372.9M241.7 178.2L820.5 343.9M241.7 149.2L820.5 314.9M241.7 120.2L820.5 285.9M241.7 91.2L820.5 256.9M139.4 472.1L139.4 179.2M156.4 457.5L156.4 164.6M173.4 442.9L173.4 150M190.4 428.3L190.4 135.4M207.4 413.7L207.4 120.8M224.4 399.1L224.4 106.2M241.4 384.5L241.4 91.6M138.6 471.4L242.3 382.4M138.6 442.4L242.3 353.4M138.6 413.4L242.3 324.4M138.6 384.4L242.3 295.4M138.6 355.4L242.3 266.4M138.6 326.4L242.3 237.4M138.6 297.4L242.3 208.4M138.6 268.4L242.3 179.4M138.6 239.4L242.3 150.4M138.6 210.4L242.3 121.4M138.6 181.4L242.3 92.4M716.8 637.4L716.8 344.5M733.8 622.8L733.8 329.9M750.8 608.2L750.8 315.3M767.8 593.6L767.8 300.7M784.8 579L784.8 286.1M801.8 564.4L801.8 271.5M818.8 549.8L818.8 256.9M716 636.6L819.7 547.6M716 607.6L819.7 518.6M716 578.6L819.7 489.6M716 549.6L819.7 460.6M716 520.6L819.7 431.6M716 491.6L819.7 402.6M716 462.6L819.7 373.6M716 433.6L819.7 344.6M716 404.6L819.7 315.6M716 375.6L819.7 286.6M716 346.6L819.7 257.6M139.4 472.1L139.4 179.2M168.2 480.4L168.2 187.5M197 488.6L197 195.7M225.8 496.9L225.8 204M254.6 505.1L254.6 212.2M283.4 513.3L283.4 220.4M312.2 521.6L312.2 228.7M341 529.8L341 236.9M369.8 538.1L369.8 245.2M398.6 546.3L398.6 253.4M427.4 554.5L427.4 261.6M456.2 562.8L456.2 269.9M485 571L485 278.1M513.8 579.3L513.8 286.4M542.6 587.5L542.6 294.6M571.4 595.7L571.4 302.8M600.2 604L600.2 311.1M629 612.2L629 319.3M657.8 620.5L657.8 327.6M686.6 628.7L686.6 335.8M715.4 636.9L715.4 344M138 470.3L716.8 635.9M138 441.3L716.8 606.9M138 412.3L716.8 577.9M138 383.3L716.8 548.9M138 354.3L716.8 519.9M138 325.3L716.8 490.9M138 296.3L716.8 461.9M138 267.3L716.8 432.9M138 238.3L716.8 403.9M138 209.3L716.8 374.9M138 180.3L716.8 345.9M138.6 179.9L242.3 90.9M167.4 188.2L271.1 99.1M196.2 196.4L299.9 107.3M225 204.6L328.7 115.6M253.8 212.9L357.5 123.8M282.6 221.1L386.3 132.1M311.4 229.4L415.1 140.3M340.2 237.6L443.9 148.5M369 245.8L472.7 156.8M397.8 254.1L501.5 165M426.6 262.3L530.3 173.3M455.4 270.6L559.1 181.5M484.2 278.8L587.9 189.7M513 287L616.7 198M541.8 295.3L645.5 206.2M570.6 303.5L674.3 214.5M599.4 311.8L703.1 222.7M628.2 320L731.9 230.9M657 328.2L760.7 239.2M685.8 336.5L789.5 247.4M714.6 344.7L818.3 255.7M138 178.8L716.8 344.4M155 164.2L733.8 329.8M172 149.6L750.8 315.2M189 135L767.8 300.6M206 120.4L784.8 286M223 105.8L801.8 271.4M240 91.2L818.8 256.8" fill="none" stroke="#55606a" stroke-width="1" stroke-linecap="round" stroke-linejoin="round" />
<path d="M302.3 294.6C295.7 296.8 293.3 290.8 299.3 290.8L410.7 195.1C414.3 190.8 415.5 198 408.3 205.9L403.5 208.3" fill="none" stroke="#2b2b2b" stroke-width="2.9" stroke-linecap="round" stroke-linejoin="round" />
<path d="M302.3 294.6C295.7 296.8 293.3 290.8 299.3 290.8L410.7 195.1C414.3 190.8 415.5 198 408.3 205.9L403.5 208.3" fill="none" stroke="#9aa4ad" stroke-width="1.6" stroke-linecap="round" stroke-linejoin="round" />
<path d="M302.3 409.2C295.7 411.3 293.3 405.3 299.3 405.3L410.7 309.7C414.3 305.4 415.5 312.6 408.3 320.5L403.5 322.9" fill="none" stroke="#2b2b2b" stroke-width="2.9" stroke-linecap="round" stroke-linejoin="round" />
<path d="M302.3 409.2C295.7 411.3 293.3 405.3 299.3 405.3L410.7 309.7C414.3 305.4 415.5 312.6 408.3 320.5L403.5 322.9" fill="none" stroke="#9aa4ad" stroke-width="1.6" stroke-linecap="round" stroke-linejoin="round" />
<path d="M567.3 370.4C560.7 372.6 558.3 366.6 564.3 366.6L675.6 270.9C679.3 266.6 680.5 273.8 673.2 281.7L668.4 284.1" fill="none" stroke="#2b2b2b" stroke-width="2.9" stroke-linecap="round" stroke-linejoin="round" />
<path d="M567.3 370.4C560.7 372.6 558.3 366.6 564.3 366.6L675.6 270.9C679.3 266.6 680.5 273.8 673.2 281.7L668.4 284.1" fill="none" stroke="#9aa4ad" stroke-width="1.6" stroke-linecap="round" stroke-linejoin="round" />
<path d="M567.3 485C560.7 487.1 558.3 481.1 564.3 481.1L675.6 385.5C679.3 381.2 680.5 388.4 673.2 396.3L668.4 398.7" fill="none" stroke="#2b2b2b" stroke-width="2.9" stroke-linecap="round" stroke-linejoin="round" />
<path d="M567.3 485C560.7 487.1 558.3 481.1 564.3 481.1L675.6 385.5C679.3 381.2 680.5 388.4 673.2 396.3L668.4 398.7" fill="none" stroke="#9aa4ad" stroke-width="1.6" stroke-linecap="round" stroke-linejoin="round" />
<ellipse cx="138.4" cy="229.1" rx="6.5" ry="3" transform="rotate(0 138.4 229.1)" fill="none" stroke="#15191d" stroke-width="2.6"/>
<ellipse cx="820.8" cy="306.7" rx="5" ry="3.6" transform="rotate(0 820.8 306.7)" fill="none" stroke="#15191d" stroke-width="2.4"/>
<ellipse cx="716.4" cy="393.9" rx="6.5" ry="3" transform="rotate(0 716.4 393.9)" fill="none" stroke="#15191d" stroke-width="2.4"/>
<ellipse cx="242.1" cy="140.1" rx="6.5" ry="3" transform="rotate(0 242.1 140.1)" fill="none" stroke="#15191d" stroke-width="2.2"/>
<ellipse cx="138.4" cy="287.1" rx="6.5" ry="3" transform="rotate(0 138.4 287.1)" fill="none" stroke="#15191d" stroke-width="2.6"/>
<ellipse cx="820.8" cy="364.7" rx="5" ry="3.6" transform="rotate(0 820.8 364.7)" fill="none" stroke="#15191d" stroke-width="2.4"/>
<ellipse cx="716.4" cy="451.9" rx="6.5" ry="3" transform="rotate(0 716.4 451.9)" fill="none" stroke="#15191d" stroke-width="2.4"/>
<ellipse cx="242.1" cy="198.1" rx="6.5" ry="3" transform="rotate(0 242.1 198.1)" fill="none" stroke="#15191d" stroke-width="2.2"/>
<ellipse cx="138.4" cy="345.1" rx="6.5" ry="3" transform="rotate(0 138.4 345.1)" fill="none" stroke="#15191d" stroke-width="2.6"/>
<ellipse cx="820.8" cy="422.7" rx="5" ry="3.6" transform="rotate(0 820.8 422.7)" fill="none" stroke="#15191d" stroke-width="2.4"/>
<ellipse cx="716.4" cy="509.9" rx="6.5" ry="3" transform="rotate(0 716.4 509.9)" fill="none" stroke="#15191d" stroke-width="2.4"/>
<ellipse cx="242.1" cy="256.1" rx="6.5" ry="3" transform="rotate(0 242.1 256.1)" fill="none" stroke="#15191d" stroke-width="2.2"/>
<ellipse cx="138.4" cy="403.1" rx="6.5" ry="3" transform="rotate(0 138.4 403.1)" fill="none" stroke="#15191d" stroke-width="2.6"/>
<ellipse cx="820.8" cy="480.7" rx="5" ry="3.6" transform="rotate(0 820.8 480.7)" fill="none" stroke="#15191d" stroke-width="2.4"/>
<ellipse cx="716.4" cy="567.9" rx="6.5" ry="3" transform="rotate(0 716.4 567.9)" fill="none" stroke="#15191d" stroke-width="2.4"/>
<ellipse cx="242.1" cy="314.1" rx="6.5" ry="3" transform="rotate(0 242.1 314.1)" fill="none" stroke="#15191d" stroke-width="2.2"/>
<ellipse cx="138.4" cy="461.1" rx="6.5" ry="3" transform="rotate(0 138.4 461.1)" fill="none" stroke="#15191d" stroke-width="2.6"/>
<ellipse cx="820.8" cy="538.7" rx="5" ry="3.6" transform="rotate(0 820.8 538.7)" fill="none" stroke="#15191d" stroke-width="2.4"/>
<ellipse cx="716.4" cy="625.9" rx="6.5" ry="3" transform="rotate(0 716.4 625.9)" fill="none" stroke="#15191d" stroke-width="2.4"/>
<ellipse cx="242.1" cy="372.1" rx="6.5" ry="3" transform="rotate(0 242.1 372.1)" fill="none" stroke="#15191d" stroke-width="2.2"/>
<ellipse cx="174" cy="482.1" rx="3.8" ry="5.2" transform="rotate(-15 174 482.1)" fill="none" stroke="#15191d" stroke-width="2.4"/>
<ellipse cx="174" cy="190.6" rx="3.4" ry="5.6" transform="rotate(-15 174 190.6)" fill="none" stroke="#15191d" stroke-width="2.4"/>
<ellipse cx="276" cy="103" rx="3.4" ry="5.6" transform="rotate(-15 276 103)" fill="none" stroke="#15191d" stroke-width="2.4"/>
<ellipse cx="231" cy="498.4" rx="3.8" ry="5.2" transform="rotate(-15 231 498.4)" fill="none" stroke="#15191d" stroke-width="2.4"/>
<ellipse cx="231" cy="206.9" rx="3.4" ry="5.6" transform="rotate(-15 231 206.9)" fill="none" stroke="#15191d" stroke-width="2.4"/>
<ellipse cx="333" cy="119.3" rx="3.4" ry="5.6" transform="rotate(-15 333 119.3)" fill="none" stroke="#15191d" stroke-width="2.4"/>
<ellipse cx="288" cy="514.7" rx="3.8" ry="5.2" transform="rotate(-15 288 514.7)" fill="none" stroke="#15191d" stroke-width="2.4"/>
<ellipse cx="288" cy="223.2" rx="3.4" ry="5.6" transform="rotate(-15 288 223.2)" fill="none" stroke="#15191d" stroke-width="2.4"/>
<ellipse cx="390" cy="135.6" rx="3.4" ry="5.6" transform="rotate(-15 390 135.6)" fill="none" stroke="#15191d" stroke-width="2.4"/>
<ellipse cx="345" cy="531" rx="3.8" ry="5.2" transform="rotate(-15 345 531)" fill="none" stroke="#15191d" stroke-width="2.4"/>
<ellipse cx="345" cy="239.5" rx="3.4" ry="5.6" transform="rotate(-15 345 239.5)" fill="none" stroke="#15191d" stroke-width="2.4"/>
<ellipse cx="447" cy="151.9" rx="3.4" ry="5.6" transform="rotate(-15 447 151.9)" fill="none" stroke="#15191d" stroke-width="2.4"/>
<ellipse cx="402.1" cy="547.3" rx="3.8" ry="5.2" transform="rotate(-15 402.1 547.3)" fill="none" stroke="#15191d" stroke-width="2.4"/>
<ellipse cx="402.1" cy="255.8" rx="3.4" ry="5.6" transform="rotate(-15 402.1 255.8)" fill="none" stroke="#15191d" stroke-width="2.4"/>
<ellipse cx="504.1" cy="168.2" rx="3.4" ry="5.6" transform="rotate(-15 504.1 168.2)" fill="none" stroke="#15191d" stroke-width="2.4"/>
<ellipse cx="459.1" cy="563.7" rx="3.8" ry="5.2" transform="rotate(-15 459.1 563.7)" fill="none" stroke="#15191d" stroke-width="2.4"/>
<ellipse cx="459.1" cy="272.2" rx="3.4" ry="5.6" transform="rotate(-15 459.1 272.2)" fill="none" stroke="#15191d" stroke-width="2.4"/>
<ellipse cx="561.1" cy="184.6" rx="3.4" ry="5.6" transform="rotate(-15 561.1 184.6)" fill="none" stroke="#15191d" stroke-width="2.4"/>
<ellipse cx="516.1" cy="580" rx="3.8" ry="5.2" transform="rotate(-15 516.1 580)" fill="none" stroke="#15191d" stroke-width="2.4"/>
<ellipse cx="516.1" cy="288.5" rx="3.4" ry="5.6" transform="rotate(-15 516.1 288.5)" fill="none" stroke="#15191d" stroke-width="2.4"/>
<ellipse cx="618.1" cy="200.9" rx="3.4" ry="5.6" transform="rotate(-15 618.1 200.9)" fill="none" stroke="#15191d" stroke-width="2.4"/>
<ellipse cx="573.1" cy="596.3" rx="3.8" ry="5.2" transform="rotate(-15 573.1 596.3)" fill="none" stroke="#15191d" stroke-width="2.4"/>
<ellipse cx="573.1" cy="304.8" rx="3.4" ry="5.6" transform="rotate(-15 573.1 304.8)" fill="none" stroke="#15191d" stroke-width="2.4"/>
<ellipse cx="675.1" cy="217.2" rx="3.4" ry="5.6" transform="rotate(-15 675.1 217.2)" fill="none" stroke="#15191d" stroke-width="2.4"/>
<ellipse cx="630.2" cy="612.6" rx="3.8" ry="5.2" transform="rotate(-15 630.2 612.6)" fill="none" stroke="#15191d" stroke-width="2.4"/>
<ellipse cx="630.2" cy="321.1" rx="3.4" ry="5.6" transform="rotate(-15 630.2 321.1)" fill="none" stroke="#15191d" stroke-width="2.4"/>
<ellipse cx="732.2" cy="233.5" rx="3.4" ry="5.6" transform="rotate(-15 732.2 233.5)" fill="none" stroke="#15191d" stroke-width="2.4"/>
<ellipse cx="687.2" cy="628.9" rx="3.8" ry="5.2" transform="rotate(-15 687.2 628.9)" fill="none" stroke="#15191d" stroke-width="2.4"/>
<ellipse cx="687.2" cy="337.4" rx="3.4" ry="5.6" transform="rotate(-15 687.2 337.4)" fill="none" stroke="#15191d" stroke-width="2.4"/>
<ellipse cx="789.2" cy="249.8" rx="3.4" ry="5.6" transform="rotate(-15 789.2 249.8)" fill="none" stroke="#15191d" stroke-width="2.4"/>
<ellipse cx="160.7" cy="162.4" rx="4.6" ry="4" transform="rotate(35 160.7 162.4)" fill="none" stroke="#15191d" stroke-width="2.4"/>
<ellipse cx="736.7" cy="327.2" rx="4.6" ry="4" transform="rotate(35 736.7 327.2)" fill="none" stroke="#15191d" stroke-width="2.4"/>
<ellipse cx="738.1" cy="618.7" rx="4.2" ry="4" transform="rotate(35 738.1 618.7)" fill="none" stroke="#15191d" stroke-width="2.2"/>
<ellipse cx="194.1" cy="133.7" rx="4.6" ry="4" transform="rotate(35 194.1 133.7)" fill="none" stroke="#15191d" stroke-width="2.4"/>
<ellipse cx="770.1" cy="298.5" rx="4.6" ry="4" transform="rotate(35 770.1 298.5)" fill="none" stroke="#15191d" stroke-width="2.4"/>
<ellipse cx="771.6" cy="589.9" rx="4.2" ry="4" transform="rotate(35 771.6 589.9)" fill="none" stroke="#15191d" stroke-width="2.2"/>
<ellipse cx="227.6" cy="104.9" rx="4.6" ry="4" transform="rotate(35 227.6 104.9)" fill="none" stroke="#15191d" stroke-width="2.4"/>
<ellipse cx="803.6" cy="269.7" rx="4.6" ry="4" transform="rotate(35 803.6 269.7)" fill="none" stroke="#15191d" stroke-width="2.4"/>
<ellipse cx="805.1" cy="561.1" rx="4.2" ry="4" transform="rotate(35 805.1 561.1)" fill="none" stroke="#15191d" stroke-width="2.2"/>
<path d="M276 86L270.7 76.5L273.6 76.5L273.6 56.5L278.4 56.5L278.4 76.5L281.2 76.5Z" fill="#a52326" stroke="#4a0c0e" stroke-width="0.7" stroke-linejoin="round"/>
<path d="M333 102.3L327.7 92.8L330.6 92.8L330.6 72.8L335.4 72.8L335.4 92.8L338.2 92.8Z" fill="#a52326" stroke="#4a0c0e" stroke-width="0.7" stroke-linejoin="round"/>
<path d="M390 118.6L384.8 109.1L387.6 109.1L387.6 89.1L392.4 89.1L392.4 109.1L395.3 109.1Z" fill="#a52326" stroke="#4a0c0e" stroke-width="0.7" stroke-linejoin="round"/>
<path d="M447 134.9L441.8 125.4L444.6 125.4L444.6 105.4L449.4 105.4L449.4 125.4L452.3 125.4Z" fill="#a52326" stroke="#4a0c0e" stroke-width="0.7" stroke-linejoin="round"/>
<path d="M504.1 151.2L498.8 141.7L501.7 141.7L501.7 121.7L506.5 121.7L506.5 141.7L509.3 141.7Z" fill="#a52326" stroke="#4a0c0e" stroke-width="0.7" stroke-linejoin="round"/>
<path d="M561.1 167.6L555.8 158.1L558.7 158.1L558.7 138.1L563.5 138.1L563.5 158.1L566.3 158.1Z" fill="#a52326" stroke="#4a0c0e" stroke-width="0.7" stroke-linejoin="round"/>
<path d="M618.1 183.9L612.9 174.4L615.7 174.4L615.7 154.4L620.5 154.4L620.5 174.4L623.4 174.4Z" fill="#a52326" stroke="#4a0c0e" stroke-width="0.7" stroke-linejoin="round"/>
<path d="M675.1 200.2L669.9 190.7L672.7 190.7L672.7 170.7L677.5 170.7L677.5 190.7L680.4 190.7Z" fill="#a52326" stroke="#4a0c0e" stroke-width="0.7" stroke-linejoin="round"/>
<path d="M732.2 216.5L726.9 207L729.8 207L729.8 187L734.6 187L734.6 207L737.4 207Z" fill="#a52326" stroke="#4a0c0e" stroke-width="0.7" stroke-linejoin="round"/>
<path d="M789.2 232.8L783.9 223.3L786.8 223.3L786.8 203.3L791.6 203.3L791.6 223.3L794.4 223.3Z" fill="#a52326" stroke="#4a0c0e" stroke-width="0.7" stroke-linejoin="round"/>
<path d="M160.7 148.4L155.4 138.9L158.3 138.9L158.3 118.9L163.1 118.9L163.1 138.9L165.9 138.9Z" fill="#a52326" stroke="#4a0c0e" stroke-width="0.7" stroke-linejoin="round"/>
<path d="M737.7 309.2L732.4 299.7L735.3 299.7L735.3 279.7L740.1 279.7L740.1 299.7L742.9 299.7Z" fill="#a52326" stroke="#4a0c0e" stroke-width="0.7" stroke-linejoin="round"/>
<path d="M194.1 119.7L188.9 110.2L191.7 110.2L191.7 90.2L196.5 90.2L196.5 110.2L199.4 110.2Z" fill="#a52326" stroke="#4a0c0e" stroke-width="0.7" stroke-linejoin="round"/>
<path d="M771.1 280.5L765.9 271L768.7 271L768.7 251L773.5 251L773.5 271L776.4 271Z" fill="#a52326" stroke="#4a0c0e" stroke-width="0.7" stroke-linejoin="round"/>
<path d="M227.6 90.9L222.4 81.4L225.2 81.4L225.2 61.4L230 61.4L230 81.4L232.9 81.4Z" fill="#a52326" stroke="#4a0c0e" stroke-width="0.7" stroke-linejoin="round"/>
<path d="M804.6 251.7L799.4 242.2L802.2 242.2L802.2 222.2L807 222.2L807 242.2L809.9 242.2Z" fill="#a52326" stroke="#4a0c0e" stroke-width="0.7" stroke-linejoin="round"/>
<path d="M174 175.6L168.7 166.1L171.6 166.1L171.6 146.1L176.4 146.1L176.4 166.1L179.2 166.1Z" fill="#a52326" stroke="#4a0c0e" stroke-width="0.7" stroke-linejoin="round"/>
<path d="M231 191.9L225.7 182.4L228.6 182.4L228.6 162.4L233.4 162.4L233.4 182.4L236.2 182.4Z" fill="#a52326" stroke="#4a0c0e" stroke-width="0.7" stroke-linejoin="round"/>
<path d="M288 208.2L282.8 198.7L285.6 198.7L285.6 178.7L290.4 178.7L290.4 198.7L293.3 198.7Z" fill="#a52326" stroke="#4a0c0e" stroke-width="0.7" stroke-linejoin="round"/>
<path d="M345 224.5L339.8 215L342.6 215L342.6 195L347.4 195L347.4 215L350.3 215Z" fill="#a52326" stroke="#4a0c0e" stroke-width="0.7" stroke-linejoin="round"/>
<path d="M402.1 240.8L396.8 231.3L399.7 231.3L399.7 211.3L404.5 211.3L404.5 231.3L407.3 231.3Z" fill="#a52326" stroke="#4a0c0e" stroke-width="0.7" stroke-linejoin="round"/>
<path d="M459.1 257.2L453.8 247.7L456.7 247.7L456.7 227.7L461.5 227.7L461.5 247.7L464.3 247.7Z" fill="#a52326" stroke="#4a0c0e" stroke-width="0.7" stroke-linejoin="round"/>
<path d="M516.1 273.5L510.9 264L513.7 264L513.7 244L518.5 244L518.5 264L521.4 264Z" fill="#a52326" stroke="#4a0c0e" stroke-width="0.7" stroke-linejoin="round"/>
<path d="M573.1 289.8L567.9 280.3L570.7 280.3L570.7 260.3L575.5 260.3L575.5 280.3L578.4 280.3Z" fill="#a52326" stroke="#4a0c0e" stroke-width="0.7" stroke-linejoin="round"/>
<path d="M630.2 306.1L624.9 296.6L627.8 296.6L627.8 276.6L632.6 276.6L632.6 296.6L635.4 296.6Z" fill="#a52326" stroke="#4a0c0e" stroke-width="0.7" stroke-linejoin="round"/>
<path d="M687.2 322.4L681.9 312.9L684.8 312.9L684.8 292.9L689.6 292.9L689.6 312.9L692.4 312.9Z" fill="#a52326" stroke="#4a0c0e" stroke-width="0.7" stroke-linejoin="round"/>
</g>
</svg>
</body></html>
